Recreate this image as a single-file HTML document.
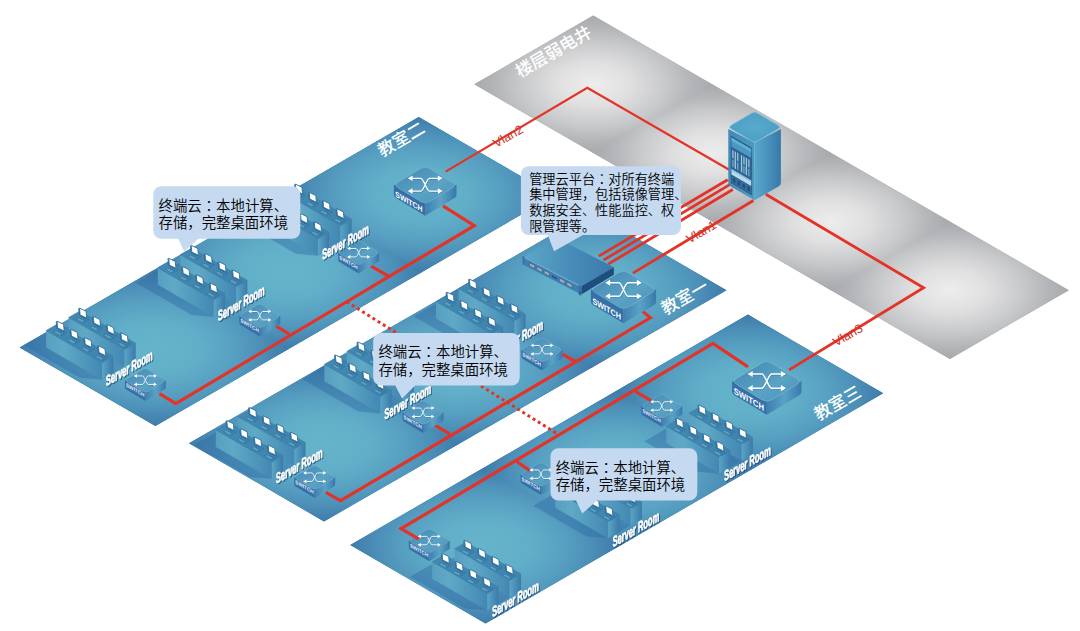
<!DOCTYPE html>
<html><head><meta charset="utf-8"><title>network</title>
<style>html,body{margin:0;padding:0;background:#fff;}svg{display:block;}</style>
</head><body>
<svg width="1080" height="631" viewBox="0 0 1080 631">
<defs>
<linearGradient id="dside" x1="0" y1="0" x2="1" y2="0"><stop offset="0" stop-color="#579fc0"/><stop offset="0.3" stop-color="#5fa9c6"/><stop offset="1" stop-color="#4388b3"/></linearGradient>
<linearGradient id="dend" x1="0" y1="0" x2="1" y2="0"><stop offset="0" stop-color="#5aa5c4"/><stop offset="1" stop-color="#3b7aaa"/></linearGradient>
<linearGradient id="dtop" x1="0" y1="0" x2="1" y2="1"><stop offset="0" stop-color="#4289b1"/><stop offset="1" stop-color="#3f84ae"/></linearGradient>
<linearGradient id="swtop" x1="0" y1="0" x2="1" y2="1"><stop offset="0" stop-color="#4385b3"/><stop offset="0.6" stop-color="#5aa3c4"/><stop offset="1" stop-color="#4a8fb9"/></linearGradient>
<linearGradient id="swright" x1="0" y1="0" x2="1" y2="0"><stop offset="0" stop-color="#3f7fb0"/><stop offset="0.5" stop-color="#5aa2c5"/><stop offset="0.75" stop-color="#4a8fba"/><stop offset="1" stop-color="#3a77aa"/></linearGradient>
<filter id="ts" x="-20%" y="-40%" width="140%" height="180%"><feDropShadow dx="1.0" dy="1.1" stdDeviation="0.45" flood-color="#173f6e" flood-opacity="0.75"/></filter>
<linearGradient id="cabR" x1="0" y1="0" x2="1" y2="0"><stop offset="0" stop-color="#58a8ca"/><stop offset="0.45" stop-color="#4a94be"/><stop offset="1" stop-color="#3878a8"/></linearGradient>
<linearGradient id="cabL" x1="0" y1="0" x2="1" y2="0"><stop offset="0" stop-color="#4189b5"/><stop offset="1" stop-color="#4d9ac2"/></linearGradient>
<radialGradient id="cabT" cx="0.5" cy="0.5" r="0.6"><stop offset="0" stop-color="#58abcc"/><stop offset="1" stop-color="#4a9dc4"/></radialGradient>
<linearGradient id="msTop" x1="0" y1="0" x2="1" y2="0"><stop offset="0" stop-color="#5ca8c7"/><stop offset="0.45" stop-color="#4a8fba"/><stop offset="1" stop-color="#3b79ab"/></linearGradient>
<radialGradient id="fg1" gradientUnits="userSpaceOnUse" cx="0" cy="0" r="1" gradientTransform="matrix(85.612 49.428 85.612 -49.428 593.21 84.30)"><stop offset="0" stop-color="#ededed"/><stop offset="0.3" stop-color="#e0e0e1"/><stop offset="0.6" stop-color="#c8c9cb"/><stop offset="0.8" stop-color="#b5b6b9"/><stop offset="1" stop-color="#a7a8ac"/></radialGradient>
<radialGradient id="fg2" gradientUnits="userSpaceOnUse" cx="0" cy="0" r="1" gradientTransform="matrix(85.612 49.428 85.612 -49.428 712.11 152.95)"><stop offset="0" stop-color="#ededed"/><stop offset="0.3" stop-color="#e0e0e1"/><stop offset="0.6" stop-color="#c8c9cb"/><stop offset="0.8" stop-color="#b5b6b9"/><stop offset="1" stop-color="#a7a8ac"/></radialGradient>
<radialGradient id="fg3" gradientUnits="userSpaceOnUse" cx="0" cy="0" r="1" gradientTransform="matrix(85.612 49.428 85.612 -49.428 831.02 221.60)"><stop offset="0" stop-color="#ededed"/><stop offset="0.3" stop-color="#e0e0e1"/><stop offset="0.6" stop-color="#c8c9cb"/><stop offset="0.8" stop-color="#b5b6b9"/><stop offset="1" stop-color="#a7a8ac"/></radialGradient>
<radialGradient id="fg4" gradientUnits="userSpaceOnUse" cx="0" cy="0" r="1" gradientTransform="matrix(85.612 49.428 85.612 -49.428 949.92 290.25)"><stop offset="0" stop-color="#ededed"/><stop offset="0.3" stop-color="#e0e0e1"/><stop offset="0.6" stop-color="#c8c9cb"/><stop offset="0.8" stop-color="#b5b6b9"/><stop offset="1" stop-color="#a7a8ac"/></radialGradient>
<radialGradient id="fg5" gradientUnits="userSpaceOnUse" cx="0" cy="0" r="1" gradientTransform="matrix(95.784 -55.320 97.776 56.448 154.02 348.38)"><stop offset="0" stop-color="#66b4cb"/><stop offset="0.35" stop-color="#61aec8"/><stop offset="0.6" stop-color="#579fc1"/><stop offset="0.8" stop-color="#4b8eb7"/><stop offset="1" stop-color="#3e79a9"/></radialGradient>
<radialGradient id="fg6" gradientUnits="userSpaceOnUse" cx="0" cy="0" r="1" gradientTransform="matrix(95.784 -55.320 97.776 56.448 287.05 271.55)"><stop offset="0" stop-color="#66b4cb"/><stop offset="0.35" stop-color="#61aec8"/><stop offset="0.6" stop-color="#579fc1"/><stop offset="0.8" stop-color="#4b8eb7"/><stop offset="1" stop-color="#3e79a9"/></radialGradient>
<radialGradient id="fg7" gradientUnits="userSpaceOnUse" cx="0" cy="0" r="1" gradientTransform="matrix(95.784 -55.320 97.776 56.448 420.08 194.72)"><stop offset="0" stop-color="#66b4cb"/><stop offset="0.35" stop-color="#61aec8"/><stop offset="0.6" stop-color="#579fc1"/><stop offset="0.8" stop-color="#4b8eb7"/><stop offset="1" stop-color="#3e79a9"/></radialGradient>
<radialGradient id="fg8" gradientUnits="userSpaceOnUse" cx="0" cy="0" r="1" gradientTransform="matrix(96.600 -55.488 97.200 56.304 323.58 443.77)"><stop offset="0" stop-color="#66b4cb"/><stop offset="0.35" stop-color="#61aec8"/><stop offset="0.6" stop-color="#579fc1"/><stop offset="0.8" stop-color="#4b8eb7"/><stop offset="1" stop-color="#3e79a9"/></radialGradient>
<radialGradient id="fg9" gradientUnits="userSpaceOnUse" cx="0" cy="0" r="1" gradientTransform="matrix(96.600 -55.488 97.200 56.304 457.75 366.70)"><stop offset="0" stop-color="#66b4cb"/><stop offset="0.35" stop-color="#61aec8"/><stop offset="0.6" stop-color="#579fc1"/><stop offset="0.8" stop-color="#4b8eb7"/><stop offset="1" stop-color="#3e79a9"/></radialGradient>
<radialGradient id="fg10" gradientUnits="userSpaceOnUse" cx="0" cy="0" r="1" gradientTransform="matrix(96.600 -55.488 97.200 56.304 591.92 289.63)"><stop offset="0" stop-color="#66b4cb"/><stop offset="0.35" stop-color="#61aec8"/><stop offset="0.6" stop-color="#579fc1"/><stop offset="0.8" stop-color="#4b8eb7"/><stop offset="1" stop-color="#3e79a9"/></radialGradient>
<radialGradient id="fg11" gradientUnits="userSpaceOnUse" cx="0" cy="0" r="1" gradientTransform="matrix(95.448 -55.296 97.344 56.592 484.18 545.90)"><stop offset="0" stop-color="#66b4cb"/><stop offset="0.35" stop-color="#61aec8"/><stop offset="0.6" stop-color="#579fc1"/><stop offset="0.8" stop-color="#4b8eb7"/><stop offset="1" stop-color="#3e79a9"/></radialGradient>
<radialGradient id="fg12" gradientUnits="userSpaceOnUse" cx="0" cy="0" r="1" gradientTransform="matrix(95.448 -55.296 97.344 56.592 616.75 469.10)"><stop offset="0" stop-color="#66b4cb"/><stop offset="0.35" stop-color="#61aec8"/><stop offset="0.6" stop-color="#579fc1"/><stop offset="0.8" stop-color="#4b8eb7"/><stop offset="1" stop-color="#3e79a9"/></radialGradient>
<radialGradient id="fg13" gradientUnits="userSpaceOnUse" cx="0" cy="0" r="1" gradientTransform="matrix(95.448 -55.296 97.344 56.592 749.32 392.30)"><stop offset="0" stop-color="#66b4cb"/><stop offset="0.35" stop-color="#61aec8"/><stop offset="0.6" stop-color="#579fc1"/><stop offset="0.8" stop-color="#4b8eb7"/><stop offset="1" stop-color="#3e79a9"/></radialGradient>
</defs>
<rect width="1080" height="631" fill="#fff"/>
<polygon points="474.3,84.3 949.9,358.9 1068.8,290.2 593.2,15.6" fill="#a8a9ad"/>
<polygon points="474.3,84.3 593.5,153.1 712.4,84.5 593.2,15.6" fill="url(#fg1)"/>
<polygon points="592.9,152.8 712.4,221.8 831.3,153.1 711.8,84.1" fill="url(#fg2)"/>
<polygon points="711.8,221.4 831.3,290.4 950.2,221.8 830.7,152.8" fill="url(#fg3)"/>
<polygon points="830.7,290.1 949.9,358.9 1068.8,290.2 949.6,221.4" fill="url(#fg4)"/>
<polygon points="19.6,347.6 418.7,117.1 554.5,195.5 155.4,426.0" fill="#3f7aaa"/>
<polygon points="19.6,347.6 152.9,270.6 288.7,349.0 155.4,426.0" fill="url(#fg5)"/>
<polygon points="152.3,270.9 286.0,193.8 421.8,272.2 288.1,349.3" fill="url(#fg6)"/>
<polygon points="285.4,194.1 418.7,117.1 554.5,195.5 421.2,272.5" fill="url(#fg7)"/>
<polygon points="273.8,202.0 240.0,221.5 295.9,253.8 317.9,255.8 351.6,236.2 295.8,204.0" fill="#2d6aa3" opacity="0.42"/><polygon points="284.5,193.5 340.4,225.8 340.4,242.8 284.5,210.5" fill="url(#dside)"/><polygon points="340.4,225.8 351.6,219.2 351.6,236.2 340.4,242.8" fill="url(#dend)"/><polygon points="284.5,193.5 340.4,225.8 351.6,219.2 295.8,187.0" fill="url(#dtop)" stroke="#3b7da8" stroke-width="0.5"/><polygon points="292.0,195.2 298.1,198.5 300.6,197.1 294.6,193.8" fill="#5da3c4" stroke="#2d6a96" stroke-width="0.5" stroke-linejoin="round"/><polyline points="299.6,199.0 301.6,197.8 305.0,195.5 303.4,194.7 301.0,196.5" fill="none" stroke="#2d6a96" stroke-width="0.5" stroke-linejoin="round"/><path d="M298.6 192.7 l-2.0 1.1 l3.0 1.7 l2.2 -1.2 Z" fill="#4a8eb6" stroke="#2d6a96" stroke-width="0.4"/><path d="M299.6 192.5 l0 2.0" stroke="#2d6a96" stroke-width="1.4"/><polygon points="294.5,184.5 301.1,187.7 301.7,194.5 295.1,191.3" fill="#2f6f9c" stroke="#2f6f9c" stroke-width="0.6" stroke-linejoin="round"/><polygon points="295.4,184.1 302.0,187.3 302.6,194.1 296.0,190.9" fill="#fff" stroke="#2f6f9c" stroke-width="0.9" stroke-linejoin="round"/><polygon points="305.8,203.4 311.9,206.7 314.4,205.3 308.4,202.0" fill="#5da3c4" stroke="#2d6a96" stroke-width="0.5" stroke-linejoin="round"/><polyline points="313.4,207.2 315.4,206.0 318.8,203.7 317.2,202.9 314.8,204.7" fill="none" stroke="#2d6a96" stroke-width="0.5" stroke-linejoin="round"/><path d="M312.4 200.9 l-2.0 1.1 l3.0 1.7 l2.2 -1.2 Z" fill="#4a8eb6" stroke="#2d6a96" stroke-width="0.4"/><path d="M313.4 200.7 l0 2.0" stroke="#2d6a96" stroke-width="1.4"/><polygon points="308.3,192.7 314.9,195.9 315.5,202.7 308.9,199.5" fill="#2f6f9c" stroke="#2f6f9c" stroke-width="0.6" stroke-linejoin="round"/><polygon points="309.2,192.3 315.8,195.5 316.4,202.3 309.8,199.1" fill="#fff" stroke="#2f6f9c" stroke-width="0.9" stroke-linejoin="round"/><polygon points="319.6,211.6 325.7,214.9 328.2,213.5 322.2,210.2" fill="#5da3c4" stroke="#2d6a96" stroke-width="0.5" stroke-linejoin="round"/><polyline points="327.2,215.4 329.2,214.2 332.6,211.9 331.0,211.1 328.6,212.9" fill="none" stroke="#2d6a96" stroke-width="0.5" stroke-linejoin="round"/><path d="M326.2 209.1 l-2.0 1.1 l3.0 1.7 l2.2 -1.2 Z" fill="#4a8eb6" stroke="#2d6a96" stroke-width="0.4"/><path d="M327.2 208.9 l0 2.0" stroke="#2d6a96" stroke-width="1.4"/><polygon points="322.1,200.9 328.7,204.1 329.3,210.9 322.7,207.7" fill="#2f6f9c" stroke="#2f6f9c" stroke-width="0.6" stroke-linejoin="round"/><polygon points="323.0,200.5 329.6,203.7 330.2,210.5 323.6,207.3" fill="#fff" stroke="#2f6f9c" stroke-width="0.9" stroke-linejoin="round"/><polygon points="333.4,219.8 339.5,223.1 342.0,221.7 336.0,218.4" fill="#5da3c4" stroke="#2d6a96" stroke-width="0.5" stroke-linejoin="round"/><polyline points="341.0,223.6 343.0,222.4 346.4,220.1 344.8,219.3 342.4,221.1" fill="none" stroke="#2d6a96" stroke-width="0.5" stroke-linejoin="round"/><path d="M340.0 217.3 l-2.0 1.1 l3.0 1.7 l2.2 -1.2 Z" fill="#4a8eb6" stroke="#2d6a96" stroke-width="0.4"/><path d="M341.0 217.1 l0 2.0" stroke="#2d6a96" stroke-width="1.4"/><polygon points="335.9,209.1 342.5,212.3 343.1,219.1 336.5,215.9" fill="#2f6f9c" stroke="#2f6f9c" stroke-width="0.6" stroke-linejoin="round"/><polygon points="336.8,208.7 343.4,211.9 344.0,218.7 337.4,215.5" fill="#fff" stroke="#2f6f9c" stroke-width="0.9" stroke-linejoin="round"/><polygon points="262.0,206.5 317.9,238.8 317.9,255.8 262.0,223.5" fill="url(#dside)"/><polygon points="317.9,238.8 329.1,232.2 329.1,249.2 317.9,255.8" fill="url(#dend)"/><polygon points="262.0,206.5 317.9,238.8 329.1,232.2 273.3,200.0" fill="url(#dtop)" stroke="#3b7da8" stroke-width="0.5"/><polygon points="269.5,208.2 275.6,211.5 278.1,210.1 272.1,206.8" fill="#5da3c4" stroke="#2d6a96" stroke-width="0.5" stroke-linejoin="round"/><polyline points="277.1,212.0 279.1,210.8 282.5,208.5 280.9,207.7 278.5,209.5" fill="none" stroke="#2d6a96" stroke-width="0.5" stroke-linejoin="round"/><path d="M276.1 205.7 l-2.0 1.1 l3.0 1.7 l2.2 -1.2 Z" fill="#4a8eb6" stroke="#2d6a96" stroke-width="0.4"/><path d="M277.1 205.5 l0 2.0" stroke="#2d6a96" stroke-width="1.4"/><polygon points="272.0,197.5 278.6,200.7 279.2,207.5 272.6,204.3" fill="#2f6f9c" stroke="#2f6f9c" stroke-width="0.6" stroke-linejoin="round"/><polygon points="272.9,197.1 279.5,200.3 280.1,207.1 273.5,203.9" fill="#fff" stroke="#2f6f9c" stroke-width="0.9" stroke-linejoin="round"/><polygon points="283.3,216.4 289.4,219.7 291.9,218.3 285.9,215.0" fill="#5da3c4" stroke="#2d6a96" stroke-width="0.5" stroke-linejoin="round"/><polyline points="290.9,220.2 292.9,219.0 296.3,216.7 294.7,215.9 292.3,217.7" fill="none" stroke="#2d6a96" stroke-width="0.5" stroke-linejoin="round"/><path d="M289.9 213.9 l-2.0 1.1 l3.0 1.7 l2.2 -1.2 Z" fill="#4a8eb6" stroke="#2d6a96" stroke-width="0.4"/><path d="M290.9 213.7 l0 2.0" stroke="#2d6a96" stroke-width="1.4"/><polygon points="285.8,205.7 292.4,208.9 293.0,215.7 286.4,212.5" fill="#2f6f9c" stroke="#2f6f9c" stroke-width="0.6" stroke-linejoin="round"/><polygon points="286.7,205.3 293.3,208.5 293.9,215.3 287.3,212.1" fill="#fff" stroke="#2f6f9c" stroke-width="0.9" stroke-linejoin="round"/><polygon points="297.1,224.6 303.2,227.9 305.7,226.5 299.7,223.2" fill="#5da3c4" stroke="#2d6a96" stroke-width="0.5" stroke-linejoin="round"/><polyline points="304.7,228.4 306.7,227.2 310.1,224.9 308.5,224.1 306.1,225.9" fill="none" stroke="#2d6a96" stroke-width="0.5" stroke-linejoin="round"/><path d="M303.7 222.1 l-2.0 1.1 l3.0 1.7 l2.2 -1.2 Z" fill="#4a8eb6" stroke="#2d6a96" stroke-width="0.4"/><path d="M304.7 221.9 l0 2.0" stroke="#2d6a96" stroke-width="1.4"/><polygon points="299.6,213.9 306.2,217.1 306.8,223.9 300.2,220.7" fill="#2f6f9c" stroke="#2f6f9c" stroke-width="0.6" stroke-linejoin="round"/><polygon points="300.5,213.5 307.1,216.7 307.7,223.5 301.1,220.3" fill="#fff" stroke="#2f6f9c" stroke-width="0.9" stroke-linejoin="round"/><polygon points="310.9,232.8 317.0,236.1 319.5,234.7 313.5,231.4" fill="#5da3c4" stroke="#2d6a96" stroke-width="0.5" stroke-linejoin="round"/><polyline points="318.5,236.6 320.5,235.4 323.9,233.1 322.3,232.3 319.9,234.1" fill="none" stroke="#2d6a96" stroke-width="0.5" stroke-linejoin="round"/><path d="M317.5 230.3 l-2.0 1.1 l3.0 1.7 l2.2 -1.2 Z" fill="#4a8eb6" stroke="#2d6a96" stroke-width="0.4"/><path d="M318.5 230.1 l0 2.0" stroke="#2d6a96" stroke-width="1.4"/><polygon points="313.4,222.1 320.0,225.3 320.6,232.1 314.0,228.9" fill="#2f6f9c" stroke="#2f6f9c" stroke-width="0.6" stroke-linejoin="round"/><polygon points="314.3,221.7 320.9,224.9 321.5,231.7 314.9,228.5" fill="#fff" stroke="#2f6f9c" stroke-width="0.9" stroke-linejoin="round"/>
<polygon points="169.6,263.2 135.8,282.7 191.7,314.9 213.7,316.9 247.4,297.4 191.6,265.2" fill="#2d6aa3" opacity="0.42"/><polygon points="180.3,254.7 236.2,286.9 236.2,303.9 180.3,271.7" fill="url(#dside)"/><polygon points="236.2,286.9 247.4,280.4 247.4,297.4 236.2,303.9" fill="url(#dend)"/><polygon points="180.3,254.7 236.2,286.9 247.4,280.4 191.6,248.2" fill="url(#dtop)" stroke="#3b7da8" stroke-width="0.5"/><polygon points="187.8,256.4 193.9,259.7 196.4,258.3 190.4,255.0" fill="#5da3c4" stroke="#2d6a96" stroke-width="0.5" stroke-linejoin="round"/><polyline points="195.4,260.2 197.4,259.0 200.8,256.7 199.2,255.9 196.8,257.7" fill="none" stroke="#2d6a96" stroke-width="0.5" stroke-linejoin="round"/><path d="M194.4 253.9 l-2.0 1.1 l3.0 1.7 l2.2 -1.2 Z" fill="#4a8eb6" stroke="#2d6a96" stroke-width="0.4"/><path d="M195.4 253.7 l0 2.0" stroke="#2d6a96" stroke-width="1.4"/><polygon points="190.3,245.7 196.9,248.9 197.5,255.7 190.9,252.5" fill="#2f6f9c" stroke="#2f6f9c" stroke-width="0.6" stroke-linejoin="round"/><polygon points="191.2,245.3 197.8,248.5 198.4,255.3 191.8,252.1" fill="#fff" stroke="#2f6f9c" stroke-width="0.9" stroke-linejoin="round"/><polygon points="201.6,264.6 207.7,267.9 210.2,266.5 204.2,263.2" fill="#5da3c4" stroke="#2d6a96" stroke-width="0.5" stroke-linejoin="round"/><polyline points="209.2,268.4 211.2,267.2 214.6,264.9 213.0,264.1 210.6,265.9" fill="none" stroke="#2d6a96" stroke-width="0.5" stroke-linejoin="round"/><path d="M208.2 262.1 l-2.0 1.1 l3.0 1.7 l2.2 -1.2 Z" fill="#4a8eb6" stroke="#2d6a96" stroke-width="0.4"/><path d="M209.2 261.9 l0 2.0" stroke="#2d6a96" stroke-width="1.4"/><polygon points="204.1,253.9 210.7,257.1 211.3,263.9 204.7,260.7" fill="#2f6f9c" stroke="#2f6f9c" stroke-width="0.6" stroke-linejoin="round"/><polygon points="205.0,253.5 211.6,256.7 212.2,263.5 205.6,260.3" fill="#fff" stroke="#2f6f9c" stroke-width="0.9" stroke-linejoin="round"/><polygon points="215.4,272.8 221.5,276.1 224.0,274.7 218.0,271.4" fill="#5da3c4" stroke="#2d6a96" stroke-width="0.5" stroke-linejoin="round"/><polyline points="223.0,276.6 225.0,275.4 228.4,273.1 226.8,272.3 224.4,274.1" fill="none" stroke="#2d6a96" stroke-width="0.5" stroke-linejoin="round"/><path d="M222.0 270.3 l-2.0 1.1 l3.0 1.7 l2.2 -1.2 Z" fill="#4a8eb6" stroke="#2d6a96" stroke-width="0.4"/><path d="M223.0 270.1 l0 2.0" stroke="#2d6a96" stroke-width="1.4"/><polygon points="217.9,262.1 224.5,265.3 225.1,272.1 218.5,268.9" fill="#2f6f9c" stroke="#2f6f9c" stroke-width="0.6" stroke-linejoin="round"/><polygon points="218.8,261.7 225.4,264.9 226.0,271.7 219.4,268.5" fill="#fff" stroke="#2f6f9c" stroke-width="0.9" stroke-linejoin="round"/><polygon points="229.2,281.0 235.3,284.3 237.8,282.9 231.8,279.6" fill="#5da3c4" stroke="#2d6a96" stroke-width="0.5" stroke-linejoin="round"/><polyline points="236.8,284.8 238.8,283.6 242.2,281.3 240.6,280.5 238.2,282.3" fill="none" stroke="#2d6a96" stroke-width="0.5" stroke-linejoin="round"/><path d="M235.8 278.5 l-2.0 1.1 l3.0 1.7 l2.2 -1.2 Z" fill="#4a8eb6" stroke="#2d6a96" stroke-width="0.4"/><path d="M236.8 278.3 l0 2.0" stroke="#2d6a96" stroke-width="1.4"/><polygon points="231.7,270.3 238.3,273.5 238.9,280.3 232.3,277.1" fill="#2f6f9c" stroke="#2f6f9c" stroke-width="0.6" stroke-linejoin="round"/><polygon points="232.6,269.9 239.2,273.1 239.8,279.9 233.2,276.7" fill="#fff" stroke="#2f6f9c" stroke-width="0.9" stroke-linejoin="round"/><polygon points="157.8,267.7 213.7,299.9 213.7,316.9 157.8,284.7" fill="url(#dside)"/><polygon points="213.7,299.9 224.9,293.4 224.9,310.4 213.7,316.9" fill="url(#dend)"/><polygon points="157.8,267.7 213.7,299.9 224.9,293.4 169.1,261.2" fill="url(#dtop)" stroke="#3b7da8" stroke-width="0.5"/><polygon points="165.3,269.4 171.4,272.7 173.9,271.3 167.9,268.0" fill="#5da3c4" stroke="#2d6a96" stroke-width="0.5" stroke-linejoin="round"/><polyline points="172.9,273.2 174.9,272.0 178.3,269.7 176.7,268.9 174.3,270.7" fill="none" stroke="#2d6a96" stroke-width="0.5" stroke-linejoin="round"/><path d="M171.9 266.9 l-2.0 1.1 l3.0 1.7 l2.2 -1.2 Z" fill="#4a8eb6" stroke="#2d6a96" stroke-width="0.4"/><path d="M172.9 266.7 l0 2.0" stroke="#2d6a96" stroke-width="1.4"/><polygon points="167.8,258.7 174.4,261.9 175.0,268.7 168.4,265.5" fill="#2f6f9c" stroke="#2f6f9c" stroke-width="0.6" stroke-linejoin="round"/><polygon points="168.7,258.3 175.3,261.5 175.9,268.3 169.3,265.1" fill="#fff" stroke="#2f6f9c" stroke-width="0.9" stroke-linejoin="round"/><polygon points="179.1,277.6 185.2,280.9 187.7,279.5 181.7,276.2" fill="#5da3c4" stroke="#2d6a96" stroke-width="0.5" stroke-linejoin="round"/><polyline points="186.7,281.4 188.7,280.2 192.1,277.9 190.5,277.1 188.1,278.9" fill="none" stroke="#2d6a96" stroke-width="0.5" stroke-linejoin="round"/><path d="M185.7 275.1 l-2.0 1.1 l3.0 1.7 l2.2 -1.2 Z" fill="#4a8eb6" stroke="#2d6a96" stroke-width="0.4"/><path d="M186.7 274.9 l0 2.0" stroke="#2d6a96" stroke-width="1.4"/><polygon points="181.6,266.9 188.2,270.1 188.8,276.9 182.2,273.7" fill="#2f6f9c" stroke="#2f6f9c" stroke-width="0.6" stroke-linejoin="round"/><polygon points="182.5,266.5 189.1,269.7 189.7,276.5 183.1,273.3" fill="#fff" stroke="#2f6f9c" stroke-width="0.9" stroke-linejoin="round"/><polygon points="192.9,285.8 199.0,289.1 201.5,287.7 195.5,284.4" fill="#5da3c4" stroke="#2d6a96" stroke-width="0.5" stroke-linejoin="round"/><polyline points="200.5,289.6 202.5,288.4 205.9,286.1 204.3,285.3 201.9,287.1" fill="none" stroke="#2d6a96" stroke-width="0.5" stroke-linejoin="round"/><path d="M199.5 283.3 l-2.0 1.1 l3.0 1.7 l2.2 -1.2 Z" fill="#4a8eb6" stroke="#2d6a96" stroke-width="0.4"/><path d="M200.5 283.1 l0 2.0" stroke="#2d6a96" stroke-width="1.4"/><polygon points="195.4,275.1 202.0,278.3 202.6,285.1 196.0,281.9" fill="#2f6f9c" stroke="#2f6f9c" stroke-width="0.6" stroke-linejoin="round"/><polygon points="196.3,274.7 202.9,277.9 203.5,284.7 196.9,281.5" fill="#fff" stroke="#2f6f9c" stroke-width="0.9" stroke-linejoin="round"/><polygon points="206.7,294.0 212.8,297.3 215.3,295.9 209.3,292.6" fill="#5da3c4" stroke="#2d6a96" stroke-width="0.5" stroke-linejoin="round"/><polyline points="214.3,297.8 216.3,296.6 219.7,294.3 218.1,293.5 215.7,295.3" fill="none" stroke="#2d6a96" stroke-width="0.5" stroke-linejoin="round"/><path d="M213.3 291.5 l-2.0 1.1 l3.0 1.7 l2.2 -1.2 Z" fill="#4a8eb6" stroke="#2d6a96" stroke-width="0.4"/><path d="M214.3 291.3 l0 2.0" stroke="#2d6a96" stroke-width="1.4"/><polygon points="209.2,283.3 215.8,286.5 216.4,293.3 209.8,290.1" fill="#2f6f9c" stroke="#2f6f9c" stroke-width="0.6" stroke-linejoin="round"/><polygon points="210.1,282.9 216.7,286.1 217.3,292.9 210.7,289.7" fill="#fff" stroke="#2f6f9c" stroke-width="0.9" stroke-linejoin="round"/>
<polygon points="57.9,326.0 24.1,345.5 80.0,377.8 102.0,379.8 135.7,360.2 79.9,328.0" fill="#2d6aa3" opacity="0.42"/><polygon points="68.6,317.5 124.5,349.8 124.5,366.8 68.6,334.5" fill="url(#dside)"/><polygon points="124.5,349.8 135.7,343.2 135.7,360.2 124.5,366.8" fill="url(#dend)"/><polygon points="68.6,317.5 124.5,349.8 135.7,343.2 79.9,311.0" fill="url(#dtop)" stroke="#3b7da8" stroke-width="0.5"/><polygon points="76.1,319.2 82.2,322.5 84.7,321.1 78.7,317.8" fill="#5da3c4" stroke="#2d6a96" stroke-width="0.5" stroke-linejoin="round"/><polyline points="83.7,323.0 85.7,321.8 89.1,319.5 87.5,318.7 85.1,320.5" fill="none" stroke="#2d6a96" stroke-width="0.5" stroke-linejoin="round"/><path d="M82.7 316.7 l-2.0 1.1 l3.0 1.7 l2.2 -1.2 Z" fill="#4a8eb6" stroke="#2d6a96" stroke-width="0.4"/><path d="M83.7 316.5 l0 2.0" stroke="#2d6a96" stroke-width="1.4"/><polygon points="78.6,308.5 85.2,311.7 85.8,318.5 79.2,315.3" fill="#2f6f9c" stroke="#2f6f9c" stroke-width="0.6" stroke-linejoin="round"/><polygon points="79.5,308.1 86.1,311.3 86.7,318.1 80.1,314.9" fill="#fff" stroke="#2f6f9c" stroke-width="0.9" stroke-linejoin="round"/><polygon points="89.9,327.4 96.0,330.7 98.5,329.3 92.5,326.0" fill="#5da3c4" stroke="#2d6a96" stroke-width="0.5" stroke-linejoin="round"/><polyline points="97.5,331.2 99.5,330.0 102.9,327.7 101.3,326.9 98.9,328.7" fill="none" stroke="#2d6a96" stroke-width="0.5" stroke-linejoin="round"/><path d="M96.5 324.9 l-2.0 1.1 l3.0 1.7 l2.2 -1.2 Z" fill="#4a8eb6" stroke="#2d6a96" stroke-width="0.4"/><path d="M97.5 324.7 l0 2.0" stroke="#2d6a96" stroke-width="1.4"/><polygon points="92.4,316.7 99.0,319.9 99.6,326.7 93.0,323.5" fill="#2f6f9c" stroke="#2f6f9c" stroke-width="0.6" stroke-linejoin="round"/><polygon points="93.3,316.3 99.9,319.5 100.5,326.3 93.9,323.1" fill="#fff" stroke="#2f6f9c" stroke-width="0.9" stroke-linejoin="round"/><polygon points="103.7,335.6 109.8,338.9 112.3,337.5 106.3,334.2" fill="#5da3c4" stroke="#2d6a96" stroke-width="0.5" stroke-linejoin="round"/><polyline points="111.3,339.4 113.3,338.2 116.7,335.9 115.1,335.1 112.7,336.9" fill="none" stroke="#2d6a96" stroke-width="0.5" stroke-linejoin="round"/><path d="M110.3 333.1 l-2.0 1.1 l3.0 1.7 l2.2 -1.2 Z" fill="#4a8eb6" stroke="#2d6a96" stroke-width="0.4"/><path d="M111.3 332.9 l0 2.0" stroke="#2d6a96" stroke-width="1.4"/><polygon points="106.2,324.9 112.8,328.1 113.4,334.9 106.8,331.7" fill="#2f6f9c" stroke="#2f6f9c" stroke-width="0.6" stroke-linejoin="round"/><polygon points="107.1,324.5 113.7,327.7 114.3,334.5 107.7,331.3" fill="#fff" stroke="#2f6f9c" stroke-width="0.9" stroke-linejoin="round"/><polygon points="117.5,343.8 123.6,347.1 126.1,345.7 120.1,342.4" fill="#5da3c4" stroke="#2d6a96" stroke-width="0.5" stroke-linejoin="round"/><polyline points="125.1,347.6 127.1,346.4 130.5,344.1 128.9,343.3 126.5,345.1" fill="none" stroke="#2d6a96" stroke-width="0.5" stroke-linejoin="round"/><path d="M124.1 341.3 l-2.0 1.1 l3.0 1.7 l2.2 -1.2 Z" fill="#4a8eb6" stroke="#2d6a96" stroke-width="0.4"/><path d="M125.1 341.1 l0 2.0" stroke="#2d6a96" stroke-width="1.4"/><polygon points="120.0,333.1 126.6,336.3 127.2,343.1 120.6,339.9" fill="#2f6f9c" stroke="#2f6f9c" stroke-width="0.6" stroke-linejoin="round"/><polygon points="120.9,332.7 127.5,335.9 128.1,342.7 121.5,339.5" fill="#fff" stroke="#2f6f9c" stroke-width="0.9" stroke-linejoin="round"/><polygon points="46.1,330.5 102.0,362.8 102.0,379.8 46.1,347.5" fill="url(#dside)"/><polygon points="102.0,362.8 113.2,356.2 113.2,373.2 102.0,379.8" fill="url(#dend)"/><polygon points="46.1,330.5 102.0,362.8 113.2,356.2 57.4,324.0" fill="url(#dtop)" stroke="#3b7da8" stroke-width="0.5"/><polygon points="53.6,332.2 59.7,335.5 62.2,334.1 56.2,330.8" fill="#5da3c4" stroke="#2d6a96" stroke-width="0.5" stroke-linejoin="round"/><polyline points="61.2,336.0 63.2,334.8 66.6,332.5 65.0,331.7 62.6,333.5" fill="none" stroke="#2d6a96" stroke-width="0.5" stroke-linejoin="round"/><path d="M60.2 329.7 l-2.0 1.1 l3.0 1.7 l2.2 -1.2 Z" fill="#4a8eb6" stroke="#2d6a96" stroke-width="0.4"/><path d="M61.2 329.5 l0 2.0" stroke="#2d6a96" stroke-width="1.4"/><polygon points="56.1,321.5 62.7,324.7 63.3,331.5 56.7,328.3" fill="#2f6f9c" stroke="#2f6f9c" stroke-width="0.6" stroke-linejoin="round"/><polygon points="57.0,321.1 63.6,324.3 64.2,331.1 57.6,327.9" fill="#fff" stroke="#2f6f9c" stroke-width="0.9" stroke-linejoin="round"/><polygon points="67.4,340.4 73.5,343.7 76.0,342.3 70.0,339.0" fill="#5da3c4" stroke="#2d6a96" stroke-width="0.5" stroke-linejoin="round"/><polyline points="75.0,344.2 77.0,343.0 80.4,340.7 78.8,339.9 76.4,341.7" fill="none" stroke="#2d6a96" stroke-width="0.5" stroke-linejoin="round"/><path d="M74.0 337.9 l-2.0 1.1 l3.0 1.7 l2.2 -1.2 Z" fill="#4a8eb6" stroke="#2d6a96" stroke-width="0.4"/><path d="M75.0 337.7 l0 2.0" stroke="#2d6a96" stroke-width="1.4"/><polygon points="69.9,329.7 76.5,332.9 77.1,339.7 70.5,336.5" fill="#2f6f9c" stroke="#2f6f9c" stroke-width="0.6" stroke-linejoin="round"/><polygon points="70.8,329.3 77.4,332.5 78.0,339.3 71.4,336.1" fill="#fff" stroke="#2f6f9c" stroke-width="0.9" stroke-linejoin="round"/><polygon points="81.2,348.6 87.3,351.9 89.8,350.5 83.8,347.2" fill="#5da3c4" stroke="#2d6a96" stroke-width="0.5" stroke-linejoin="round"/><polyline points="88.8,352.4 90.8,351.2 94.2,348.9 92.6,348.1 90.2,349.9" fill="none" stroke="#2d6a96" stroke-width="0.5" stroke-linejoin="round"/><path d="M87.8 346.1 l-2.0 1.1 l3.0 1.7 l2.2 -1.2 Z" fill="#4a8eb6" stroke="#2d6a96" stroke-width="0.4"/><path d="M88.8 345.9 l0 2.0" stroke="#2d6a96" stroke-width="1.4"/><polygon points="83.7,337.9 90.3,341.1 90.9,347.9 84.3,344.7" fill="#2f6f9c" stroke="#2f6f9c" stroke-width="0.6" stroke-linejoin="round"/><polygon points="84.6,337.5 91.2,340.7 91.8,347.5 85.2,344.3" fill="#fff" stroke="#2f6f9c" stroke-width="0.9" stroke-linejoin="round"/><polygon points="95.0,356.8 101.1,360.1 103.6,358.7 97.6,355.4" fill="#5da3c4" stroke="#2d6a96" stroke-width="0.5" stroke-linejoin="round"/><polyline points="102.6,360.6 104.6,359.4 108.0,357.1 106.4,356.3 104.0,358.1" fill="none" stroke="#2d6a96" stroke-width="0.5" stroke-linejoin="round"/><path d="M101.6 354.3 l-2.0 1.1 l3.0 1.7 l2.2 -1.2 Z" fill="#4a8eb6" stroke="#2d6a96" stroke-width="0.4"/><path d="M102.6 354.1 l0 2.0" stroke="#2d6a96" stroke-width="1.4"/><polygon points="97.5,346.1 104.1,349.3 104.7,356.1 98.1,352.9" fill="#2f6f9c" stroke="#2f6f9c" stroke-width="0.6" stroke-linejoin="round"/><polygon points="98.4,345.7 105.0,348.9 105.6,355.7 99.0,352.5" fill="#fff" stroke="#2f6f9c" stroke-width="0.9" stroke-linejoin="round"/>
<polygon points="189.0,443.2 591.5,212.0 726.5,290.2 324.0,521.4" fill="#3f7aaa"/>
<polygon points="189.0,443.2 323.5,366.0 458.5,444.2 324.0,521.4" fill="url(#fg8)"/>
<polygon points="322.9,366.3 457.6,288.9 592.6,367.1 457.9,444.5" fill="url(#fg9)"/>
<polygon points="457.0,289.2 591.5,212.0 726.5,290.2 592.0,367.4" fill="url(#fg10)"/>
<polygon points="447.8,297.0 414.0,316.5 469.9,348.8 491.9,350.8 525.6,331.2 469.8,299.0" fill="#2d6aa3" opacity="0.42"/><polygon points="458.5,288.5 514.4,320.8 514.4,337.8 458.5,305.5" fill="url(#dside)"/><polygon points="514.4,320.8 525.6,314.2 525.6,331.2 514.4,337.8" fill="url(#dend)"/><polygon points="458.5,288.5 514.4,320.8 525.6,314.2 469.8,282.0" fill="url(#dtop)" stroke="#3b7da8" stroke-width="0.5"/><polygon points="466.0,290.2 472.1,293.5 474.6,292.1 468.6,288.8" fill="#5da3c4" stroke="#2d6a96" stroke-width="0.5" stroke-linejoin="round"/><polyline points="473.6,294.0 475.6,292.8 479.0,290.5 477.4,289.7 475.0,291.5" fill="none" stroke="#2d6a96" stroke-width="0.5" stroke-linejoin="round"/><path d="M472.6 287.7 l-2.0 1.1 l3.0 1.7 l2.2 -1.2 Z" fill="#4a8eb6" stroke="#2d6a96" stroke-width="0.4"/><path d="M473.6 287.5 l0 2.0" stroke="#2d6a96" stroke-width="1.4"/><polygon points="468.5,279.5 475.1,282.7 475.7,289.5 469.1,286.3" fill="#2f6f9c" stroke="#2f6f9c" stroke-width="0.6" stroke-linejoin="round"/><polygon points="469.4,279.1 476.0,282.3 476.6,289.1 470.0,285.9" fill="#fff" stroke="#2f6f9c" stroke-width="0.9" stroke-linejoin="round"/><polygon points="479.8,298.4 485.9,301.7 488.4,300.3 482.4,297.0" fill="#5da3c4" stroke="#2d6a96" stroke-width="0.5" stroke-linejoin="round"/><polyline points="487.4,302.2 489.4,301.0 492.8,298.7 491.2,297.9 488.8,299.7" fill="none" stroke="#2d6a96" stroke-width="0.5" stroke-linejoin="round"/><path d="M486.4 295.9 l-2.0 1.1 l3.0 1.7 l2.2 -1.2 Z" fill="#4a8eb6" stroke="#2d6a96" stroke-width="0.4"/><path d="M487.4 295.7 l0 2.0" stroke="#2d6a96" stroke-width="1.4"/><polygon points="482.3,287.7 488.9,290.9 489.5,297.7 482.9,294.5" fill="#2f6f9c" stroke="#2f6f9c" stroke-width="0.6" stroke-linejoin="round"/><polygon points="483.2,287.3 489.8,290.5 490.4,297.3 483.8,294.1" fill="#fff" stroke="#2f6f9c" stroke-width="0.9" stroke-linejoin="round"/><polygon points="493.6,306.6 499.7,309.9 502.2,308.5 496.2,305.2" fill="#5da3c4" stroke="#2d6a96" stroke-width="0.5" stroke-linejoin="round"/><polyline points="501.2,310.4 503.2,309.2 506.6,306.9 505.0,306.1 502.6,307.9" fill="none" stroke="#2d6a96" stroke-width="0.5" stroke-linejoin="round"/><path d="M500.2 304.1 l-2.0 1.1 l3.0 1.7 l2.2 -1.2 Z" fill="#4a8eb6" stroke="#2d6a96" stroke-width="0.4"/><path d="M501.2 303.9 l0 2.0" stroke="#2d6a96" stroke-width="1.4"/><polygon points="496.1,295.9 502.7,299.1 503.3,305.9 496.7,302.7" fill="#2f6f9c" stroke="#2f6f9c" stroke-width="0.6" stroke-linejoin="round"/><polygon points="497.0,295.5 503.6,298.7 504.2,305.5 497.6,302.3" fill="#fff" stroke="#2f6f9c" stroke-width="0.9" stroke-linejoin="round"/><polygon points="507.4,314.8 513.5,318.1 516.0,316.7 510.0,313.4" fill="#5da3c4" stroke="#2d6a96" stroke-width="0.5" stroke-linejoin="round"/><polyline points="515.0,318.6 517.0,317.4 520.4,315.1 518.8,314.3 516.4,316.1" fill="none" stroke="#2d6a96" stroke-width="0.5" stroke-linejoin="round"/><path d="M514.0 312.3 l-2.0 1.1 l3.0 1.7 l2.2 -1.2 Z" fill="#4a8eb6" stroke="#2d6a96" stroke-width="0.4"/><path d="M515.0 312.1 l0 2.0" stroke="#2d6a96" stroke-width="1.4"/><polygon points="509.9,304.1 516.5,307.3 517.1,314.1 510.5,310.9" fill="#2f6f9c" stroke="#2f6f9c" stroke-width="0.6" stroke-linejoin="round"/><polygon points="510.8,303.7 517.4,306.9 518.0,313.7 511.4,310.5" fill="#fff" stroke="#2f6f9c" stroke-width="0.9" stroke-linejoin="round"/><polygon points="436.0,301.5 491.9,333.8 491.9,350.8 436.0,318.5" fill="url(#dside)"/><polygon points="491.9,333.8 503.1,327.2 503.1,344.2 491.9,350.8" fill="url(#dend)"/><polygon points="436.0,301.5 491.9,333.8 503.1,327.2 447.3,295.0" fill="url(#dtop)" stroke="#3b7da8" stroke-width="0.5"/><polygon points="443.5,303.2 449.6,306.5 452.1,305.1 446.1,301.8" fill="#5da3c4" stroke="#2d6a96" stroke-width="0.5" stroke-linejoin="round"/><polyline points="451.1,307.0 453.1,305.8 456.5,303.5 454.9,302.7 452.5,304.5" fill="none" stroke="#2d6a96" stroke-width="0.5" stroke-linejoin="round"/><path d="M450.1 300.7 l-2.0 1.1 l3.0 1.7 l2.2 -1.2 Z" fill="#4a8eb6" stroke="#2d6a96" stroke-width="0.4"/><path d="M451.1 300.5 l0 2.0" stroke="#2d6a96" stroke-width="1.4"/><polygon points="446.0,292.5 452.6,295.7 453.2,302.5 446.6,299.3" fill="#2f6f9c" stroke="#2f6f9c" stroke-width="0.6" stroke-linejoin="round"/><polygon points="446.9,292.1 453.5,295.3 454.1,302.1 447.5,298.9" fill="#fff" stroke="#2f6f9c" stroke-width="0.9" stroke-linejoin="round"/><polygon points="457.3,311.4 463.4,314.7 465.9,313.3 459.9,310.0" fill="#5da3c4" stroke="#2d6a96" stroke-width="0.5" stroke-linejoin="round"/><polyline points="464.9,315.2 466.9,314.0 470.3,311.7 468.7,310.9 466.3,312.7" fill="none" stroke="#2d6a96" stroke-width="0.5" stroke-linejoin="round"/><path d="M463.9 308.9 l-2.0 1.1 l3.0 1.7 l2.2 -1.2 Z" fill="#4a8eb6" stroke="#2d6a96" stroke-width="0.4"/><path d="M464.9 308.7 l0 2.0" stroke="#2d6a96" stroke-width="1.4"/><polygon points="459.8,300.7 466.4,303.9 467.0,310.7 460.4,307.5" fill="#2f6f9c" stroke="#2f6f9c" stroke-width="0.6" stroke-linejoin="round"/><polygon points="460.7,300.3 467.3,303.5 467.9,310.3 461.3,307.1" fill="#fff" stroke="#2f6f9c" stroke-width="0.9" stroke-linejoin="round"/><polygon points="471.1,319.6 477.2,322.9 479.7,321.5 473.7,318.2" fill="#5da3c4" stroke="#2d6a96" stroke-width="0.5" stroke-linejoin="round"/><polyline points="478.7,323.4 480.7,322.2 484.1,319.9 482.5,319.1 480.1,320.9" fill="none" stroke="#2d6a96" stroke-width="0.5" stroke-linejoin="round"/><path d="M477.7 317.1 l-2.0 1.1 l3.0 1.7 l2.2 -1.2 Z" fill="#4a8eb6" stroke="#2d6a96" stroke-width="0.4"/><path d="M478.7 316.9 l0 2.0" stroke="#2d6a96" stroke-width="1.4"/><polygon points="473.6,308.9 480.2,312.1 480.8,318.9 474.2,315.7" fill="#2f6f9c" stroke="#2f6f9c" stroke-width="0.6" stroke-linejoin="round"/><polygon points="474.5,308.5 481.1,311.7 481.7,318.5 475.1,315.3" fill="#fff" stroke="#2f6f9c" stroke-width="0.9" stroke-linejoin="round"/><polygon points="484.9,327.8 491.0,331.1 493.5,329.7 487.5,326.4" fill="#5da3c4" stroke="#2d6a96" stroke-width="0.5" stroke-linejoin="round"/><polyline points="492.5,331.6 494.5,330.4 497.9,328.1 496.3,327.3 493.9,329.1" fill="none" stroke="#2d6a96" stroke-width="0.5" stroke-linejoin="round"/><path d="M491.5 325.3 l-2.0 1.1 l3.0 1.7 l2.2 -1.2 Z" fill="#4a8eb6" stroke="#2d6a96" stroke-width="0.4"/><path d="M492.5 325.1 l0 2.0" stroke="#2d6a96" stroke-width="1.4"/><polygon points="487.4,317.1 494.0,320.3 494.6,327.1 488.0,323.9" fill="#2f6f9c" stroke="#2f6f9c" stroke-width="0.6" stroke-linejoin="round"/><polygon points="488.3,316.7 494.9,319.9 495.5,326.7 488.9,323.5" fill="#fff" stroke="#2f6f9c" stroke-width="0.9" stroke-linejoin="round"/>
<polygon points="336.2,359.8 302.4,379.3 358.3,411.6 380.3,413.6 414.0,394.1 358.2,361.8" fill="#2d6aa3" opacity="0.42"/><polygon points="346.9,351.3 402.8,383.6 402.8,400.6 346.9,368.3" fill="url(#dside)"/><polygon points="402.8,383.6 414.0,377.1 414.0,394.1 402.8,400.6" fill="url(#dend)"/><polygon points="346.9,351.3 402.8,383.6 414.0,377.1 358.2,344.8" fill="url(#dtop)" stroke="#3b7da8" stroke-width="0.5"/><polygon points="354.4,353.0 360.5,356.3 363.0,354.9 357.0,351.6" fill="#5da3c4" stroke="#2d6a96" stroke-width="0.5" stroke-linejoin="round"/><polyline points="362.0,356.8 364.0,355.6 367.4,353.3 365.8,352.5 363.4,354.3" fill="none" stroke="#2d6a96" stroke-width="0.5" stroke-linejoin="round"/><path d="M361.0 350.5 l-2.0 1.1 l3.0 1.7 l2.2 -1.2 Z" fill="#4a8eb6" stroke="#2d6a96" stroke-width="0.4"/><path d="M362.0 350.3 l0 2.0" stroke="#2d6a96" stroke-width="1.4"/><polygon points="356.9,342.3 363.5,345.5 364.1,352.3 357.5,349.1" fill="#2f6f9c" stroke="#2f6f9c" stroke-width="0.6" stroke-linejoin="round"/><polygon points="357.8,341.9 364.4,345.1 365.0,351.9 358.4,348.7" fill="#fff" stroke="#2f6f9c" stroke-width="0.9" stroke-linejoin="round"/><polygon points="368.2,361.2 374.3,364.5 376.8,363.1 370.8,359.8" fill="#5da3c4" stroke="#2d6a96" stroke-width="0.5" stroke-linejoin="round"/><polyline points="375.8,365.0 377.8,363.8 381.2,361.5 379.6,360.7 377.2,362.5" fill="none" stroke="#2d6a96" stroke-width="0.5" stroke-linejoin="round"/><path d="M374.8 358.7 l-2.0 1.1 l3.0 1.7 l2.2 -1.2 Z" fill="#4a8eb6" stroke="#2d6a96" stroke-width="0.4"/><path d="M375.8 358.5 l0 2.0" stroke="#2d6a96" stroke-width="1.4"/><polygon points="370.7,350.5 377.3,353.7 377.9,360.5 371.3,357.3" fill="#2f6f9c" stroke="#2f6f9c" stroke-width="0.6" stroke-linejoin="round"/><polygon points="371.6,350.1 378.2,353.3 378.8,360.1 372.2,356.9" fill="#fff" stroke="#2f6f9c" stroke-width="0.9" stroke-linejoin="round"/><polygon points="382.0,369.4 388.1,372.7 390.6,371.3 384.6,368.0" fill="#5da3c4" stroke="#2d6a96" stroke-width="0.5" stroke-linejoin="round"/><polyline points="389.6,373.2 391.6,372.0 395.0,369.7 393.4,368.9 391.0,370.7" fill="none" stroke="#2d6a96" stroke-width="0.5" stroke-linejoin="round"/><path d="M388.6 366.9 l-2.0 1.1 l3.0 1.7 l2.2 -1.2 Z" fill="#4a8eb6" stroke="#2d6a96" stroke-width="0.4"/><path d="M389.6 366.7 l0 2.0" stroke="#2d6a96" stroke-width="1.4"/><polygon points="384.5,358.7 391.1,361.9 391.7,368.7 385.1,365.5" fill="#2f6f9c" stroke="#2f6f9c" stroke-width="0.6" stroke-linejoin="round"/><polygon points="385.4,358.3 392.0,361.5 392.6,368.3 386.0,365.1" fill="#fff" stroke="#2f6f9c" stroke-width="0.9" stroke-linejoin="round"/><polygon points="395.8,377.6 401.9,380.9 404.4,379.5 398.4,376.2" fill="#5da3c4" stroke="#2d6a96" stroke-width="0.5" stroke-linejoin="round"/><polyline points="403.4,381.4 405.4,380.2 408.8,377.9 407.2,377.1 404.8,378.9" fill="none" stroke="#2d6a96" stroke-width="0.5" stroke-linejoin="round"/><path d="M402.4 375.1 l-2.0 1.1 l3.0 1.7 l2.2 -1.2 Z" fill="#4a8eb6" stroke="#2d6a96" stroke-width="0.4"/><path d="M403.4 374.9 l0 2.0" stroke="#2d6a96" stroke-width="1.4"/><polygon points="398.3,366.9 404.9,370.1 405.5,376.9 398.9,373.7" fill="#2f6f9c" stroke="#2f6f9c" stroke-width="0.6" stroke-linejoin="round"/><polygon points="399.2,366.5 405.8,369.7 406.4,376.5 399.8,373.3" fill="#fff" stroke="#2f6f9c" stroke-width="0.9" stroke-linejoin="round"/><polygon points="324.4,364.3 380.3,396.6 380.3,413.6 324.4,381.3" fill="url(#dside)"/><polygon points="380.3,396.6 391.5,390.1 391.5,407.1 380.3,413.6" fill="url(#dend)"/><polygon points="324.4,364.3 380.3,396.6 391.5,390.1 335.7,357.8" fill="url(#dtop)" stroke="#3b7da8" stroke-width="0.5"/><polygon points="331.9,366.0 338.0,369.3 340.5,367.9 334.5,364.6" fill="#5da3c4" stroke="#2d6a96" stroke-width="0.5" stroke-linejoin="round"/><polyline points="339.5,369.8 341.5,368.6 344.9,366.3 343.3,365.5 340.9,367.3" fill="none" stroke="#2d6a96" stroke-width="0.5" stroke-linejoin="round"/><path d="M338.5 363.5 l-2.0 1.1 l3.0 1.7 l2.2 -1.2 Z" fill="#4a8eb6" stroke="#2d6a96" stroke-width="0.4"/><path d="M339.5 363.3 l0 2.0" stroke="#2d6a96" stroke-width="1.4"/><polygon points="334.4,355.3 341.0,358.5 341.6,365.3 335.0,362.1" fill="#2f6f9c" stroke="#2f6f9c" stroke-width="0.6" stroke-linejoin="round"/><polygon points="335.3,354.9 341.9,358.1 342.5,364.9 335.9,361.7" fill="#fff" stroke="#2f6f9c" stroke-width="0.9" stroke-linejoin="round"/><polygon points="345.7,374.2 351.8,377.5 354.3,376.1 348.3,372.8" fill="#5da3c4" stroke="#2d6a96" stroke-width="0.5" stroke-linejoin="round"/><polyline points="353.3,378.0 355.3,376.8 358.7,374.5 357.1,373.7 354.7,375.5" fill="none" stroke="#2d6a96" stroke-width="0.5" stroke-linejoin="round"/><path d="M352.3 371.7 l-2.0 1.1 l3.0 1.7 l2.2 -1.2 Z" fill="#4a8eb6" stroke="#2d6a96" stroke-width="0.4"/><path d="M353.3 371.5 l0 2.0" stroke="#2d6a96" stroke-width="1.4"/><polygon points="348.2,363.5 354.8,366.7 355.4,373.5 348.8,370.3" fill="#2f6f9c" stroke="#2f6f9c" stroke-width="0.6" stroke-linejoin="round"/><polygon points="349.1,363.1 355.7,366.3 356.3,373.1 349.7,369.9" fill="#fff" stroke="#2f6f9c" stroke-width="0.9" stroke-linejoin="round"/><polygon points="359.5,382.4 365.6,385.7 368.1,384.3 362.1,381.0" fill="#5da3c4" stroke="#2d6a96" stroke-width="0.5" stroke-linejoin="round"/><polyline points="367.1,386.2 369.1,385.0 372.5,382.7 370.9,381.9 368.5,383.7" fill="none" stroke="#2d6a96" stroke-width="0.5" stroke-linejoin="round"/><path d="M366.1 379.9 l-2.0 1.1 l3.0 1.7 l2.2 -1.2 Z" fill="#4a8eb6" stroke="#2d6a96" stroke-width="0.4"/><path d="M367.1 379.7 l0 2.0" stroke="#2d6a96" stroke-width="1.4"/><polygon points="362.0,371.7 368.6,374.9 369.2,381.7 362.6,378.5" fill="#2f6f9c" stroke="#2f6f9c" stroke-width="0.6" stroke-linejoin="round"/><polygon points="362.9,371.3 369.5,374.5 370.1,381.3 363.5,378.1" fill="#fff" stroke="#2f6f9c" stroke-width="0.9" stroke-linejoin="round"/><polygon points="373.3,390.6 379.4,393.9 381.9,392.5 375.9,389.2" fill="#5da3c4" stroke="#2d6a96" stroke-width="0.5" stroke-linejoin="round"/><polyline points="380.9,394.4 382.9,393.2 386.3,390.9 384.7,390.1 382.3,391.9" fill="none" stroke="#2d6a96" stroke-width="0.5" stroke-linejoin="round"/><path d="M379.9 388.1 l-2.0 1.1 l3.0 1.7 l2.2 -1.2 Z" fill="#4a8eb6" stroke="#2d6a96" stroke-width="0.4"/><path d="M380.9 387.9 l0 2.0" stroke="#2d6a96" stroke-width="1.4"/><polygon points="375.8,379.9 382.4,383.1 383.0,389.9 376.4,386.7" fill="#2f6f9c" stroke="#2f6f9c" stroke-width="0.6" stroke-linejoin="round"/><polygon points="376.7,379.5 383.3,382.7 383.9,389.5 377.3,386.3" fill="#fff" stroke="#2f6f9c" stroke-width="0.9" stroke-linejoin="round"/>
<polygon points="227.7,425.4 193.9,444.9 249.8,477.1 271.8,479.1 305.5,459.6 249.7,427.4" fill="#2d6aa3" opacity="0.42"/><polygon points="238.4,416.9 294.3,449.1 294.3,466.1 238.4,433.9" fill="url(#dside)"/><polygon points="294.3,449.1 305.5,442.6 305.5,459.6 294.3,466.1" fill="url(#dend)"/><polygon points="238.4,416.9 294.3,449.1 305.5,442.6 249.7,410.4" fill="url(#dtop)" stroke="#3b7da8" stroke-width="0.5"/><polygon points="245.9,418.6 252.0,421.9 254.5,420.5 248.5,417.2" fill="#5da3c4" stroke="#2d6a96" stroke-width="0.5" stroke-linejoin="round"/><polyline points="253.5,422.4 255.5,421.2 258.9,418.9 257.3,418.1 254.9,419.9" fill="none" stroke="#2d6a96" stroke-width="0.5" stroke-linejoin="round"/><path d="M252.5 416.1 l-2.0 1.1 l3.0 1.7 l2.2 -1.2 Z" fill="#4a8eb6" stroke="#2d6a96" stroke-width="0.4"/><path d="M253.5 415.9 l0 2.0" stroke="#2d6a96" stroke-width="1.4"/><polygon points="248.4,407.9 255.0,411.1 255.6,417.9 249.0,414.7" fill="#2f6f9c" stroke="#2f6f9c" stroke-width="0.6" stroke-linejoin="round"/><polygon points="249.3,407.5 255.9,410.7 256.5,417.5 249.9,414.3" fill="#fff" stroke="#2f6f9c" stroke-width="0.9" stroke-linejoin="round"/><polygon points="259.7,426.8 265.8,430.1 268.3,428.7 262.3,425.4" fill="#5da3c4" stroke="#2d6a96" stroke-width="0.5" stroke-linejoin="round"/><polyline points="267.3,430.6 269.3,429.4 272.7,427.1 271.1,426.3 268.7,428.1" fill="none" stroke="#2d6a96" stroke-width="0.5" stroke-linejoin="round"/><path d="M266.3 424.3 l-2.0 1.1 l3.0 1.7 l2.2 -1.2 Z" fill="#4a8eb6" stroke="#2d6a96" stroke-width="0.4"/><path d="M267.3 424.1 l0 2.0" stroke="#2d6a96" stroke-width="1.4"/><polygon points="262.2,416.1 268.8,419.3 269.4,426.1 262.8,422.9" fill="#2f6f9c" stroke="#2f6f9c" stroke-width="0.6" stroke-linejoin="round"/><polygon points="263.1,415.7 269.7,418.9 270.3,425.7 263.7,422.5" fill="#fff" stroke="#2f6f9c" stroke-width="0.9" stroke-linejoin="round"/><polygon points="273.5,435.0 279.6,438.3 282.1,436.9 276.1,433.6" fill="#5da3c4" stroke="#2d6a96" stroke-width="0.5" stroke-linejoin="round"/><polyline points="281.1,438.8 283.1,437.6 286.5,435.3 284.9,434.5 282.5,436.3" fill="none" stroke="#2d6a96" stroke-width="0.5" stroke-linejoin="round"/><path d="M280.1 432.5 l-2.0 1.1 l3.0 1.7 l2.2 -1.2 Z" fill="#4a8eb6" stroke="#2d6a96" stroke-width="0.4"/><path d="M281.1 432.3 l0 2.0" stroke="#2d6a96" stroke-width="1.4"/><polygon points="276.0,424.3 282.6,427.5 283.2,434.3 276.6,431.1" fill="#2f6f9c" stroke="#2f6f9c" stroke-width="0.6" stroke-linejoin="round"/><polygon points="276.9,423.9 283.5,427.1 284.1,433.9 277.5,430.7" fill="#fff" stroke="#2f6f9c" stroke-width="0.9" stroke-linejoin="round"/><polygon points="287.3,443.2 293.4,446.5 295.9,445.1 289.9,441.8" fill="#5da3c4" stroke="#2d6a96" stroke-width="0.5" stroke-linejoin="round"/><polyline points="294.9,447.0 296.9,445.8 300.3,443.5 298.7,442.7 296.3,444.5" fill="none" stroke="#2d6a96" stroke-width="0.5" stroke-linejoin="round"/><path d="M293.9 440.7 l-2.0 1.1 l3.0 1.7 l2.2 -1.2 Z" fill="#4a8eb6" stroke="#2d6a96" stroke-width="0.4"/><path d="M294.9 440.5 l0 2.0" stroke="#2d6a96" stroke-width="1.4"/><polygon points="289.8,432.5 296.4,435.7 297.0,442.5 290.4,439.3" fill="#2f6f9c" stroke="#2f6f9c" stroke-width="0.6" stroke-linejoin="round"/><polygon points="290.7,432.1 297.3,435.3 297.9,442.1 291.3,438.9" fill="#fff" stroke="#2f6f9c" stroke-width="0.9" stroke-linejoin="round"/><polygon points="215.9,429.9 271.8,462.1 271.8,479.1 215.9,446.9" fill="url(#dside)"/><polygon points="271.8,462.1 283.0,455.6 283.0,472.6 271.8,479.1" fill="url(#dend)"/><polygon points="215.9,429.9 271.8,462.1 283.0,455.6 227.2,423.4" fill="url(#dtop)" stroke="#3b7da8" stroke-width="0.5"/><polygon points="223.4,431.6 229.5,434.9 232.0,433.5 226.0,430.2" fill="#5da3c4" stroke="#2d6a96" stroke-width="0.5" stroke-linejoin="round"/><polyline points="231.0,435.4 233.0,434.2 236.4,431.9 234.8,431.1 232.4,432.9" fill="none" stroke="#2d6a96" stroke-width="0.5" stroke-linejoin="round"/><path d="M230.0 429.1 l-2.0 1.1 l3.0 1.7 l2.2 -1.2 Z" fill="#4a8eb6" stroke="#2d6a96" stroke-width="0.4"/><path d="M231.0 428.9 l0 2.0" stroke="#2d6a96" stroke-width="1.4"/><polygon points="225.9,420.9 232.5,424.1 233.1,430.9 226.5,427.7" fill="#2f6f9c" stroke="#2f6f9c" stroke-width="0.6" stroke-linejoin="round"/><polygon points="226.8,420.5 233.4,423.7 234.0,430.5 227.4,427.3" fill="#fff" stroke="#2f6f9c" stroke-width="0.9" stroke-linejoin="round"/><polygon points="237.2,439.8 243.3,443.1 245.8,441.7 239.8,438.4" fill="#5da3c4" stroke="#2d6a96" stroke-width="0.5" stroke-linejoin="round"/><polyline points="244.8,443.6 246.8,442.4 250.2,440.1 248.6,439.3 246.2,441.1" fill="none" stroke="#2d6a96" stroke-width="0.5" stroke-linejoin="round"/><path d="M243.8 437.3 l-2.0 1.1 l3.0 1.7 l2.2 -1.2 Z" fill="#4a8eb6" stroke="#2d6a96" stroke-width="0.4"/><path d="M244.8 437.1 l0 2.0" stroke="#2d6a96" stroke-width="1.4"/><polygon points="239.7,429.1 246.3,432.3 246.9,439.1 240.3,435.9" fill="#2f6f9c" stroke="#2f6f9c" stroke-width="0.6" stroke-linejoin="round"/><polygon points="240.6,428.7 247.2,431.9 247.8,438.7 241.2,435.5" fill="#fff" stroke="#2f6f9c" stroke-width="0.9" stroke-linejoin="round"/><polygon points="251.0,448.0 257.1,451.3 259.6,449.9 253.6,446.6" fill="#5da3c4" stroke="#2d6a96" stroke-width="0.5" stroke-linejoin="round"/><polyline points="258.6,451.8 260.6,450.6 264.0,448.3 262.4,447.5 260.0,449.3" fill="none" stroke="#2d6a96" stroke-width="0.5" stroke-linejoin="round"/><path d="M257.6 445.5 l-2.0 1.1 l3.0 1.7 l2.2 -1.2 Z" fill="#4a8eb6" stroke="#2d6a96" stroke-width="0.4"/><path d="M258.6 445.3 l0 2.0" stroke="#2d6a96" stroke-width="1.4"/><polygon points="253.5,437.3 260.1,440.5 260.7,447.3 254.1,444.1" fill="#2f6f9c" stroke="#2f6f9c" stroke-width="0.6" stroke-linejoin="round"/><polygon points="254.4,436.9 261.0,440.1 261.6,446.9 255.0,443.7" fill="#fff" stroke="#2f6f9c" stroke-width="0.9" stroke-linejoin="round"/><polygon points="264.8,456.2 270.9,459.5 273.4,458.1 267.4,454.8" fill="#5da3c4" stroke="#2d6a96" stroke-width="0.5" stroke-linejoin="round"/><polyline points="272.4,460.0 274.4,458.8 277.8,456.5 276.2,455.7 273.8,457.5" fill="none" stroke="#2d6a96" stroke-width="0.5" stroke-linejoin="round"/><path d="M271.4 453.7 l-2.0 1.1 l3.0 1.7 l2.2 -1.2 Z" fill="#4a8eb6" stroke="#2d6a96" stroke-width="0.4"/><path d="M272.4 453.5 l0 2.0" stroke="#2d6a96" stroke-width="1.4"/><polygon points="267.3,445.5 273.9,448.7 274.5,455.5 267.9,452.3" fill="#2f6f9c" stroke="#2f6f9c" stroke-width="0.6" stroke-linejoin="round"/><polygon points="268.2,445.1 274.8,448.3 275.4,455.1 268.8,451.9" fill="#fff" stroke="#2f6f9c" stroke-width="0.9" stroke-linejoin="round"/>
<polygon points="350.3,545.0 748.0,314.6 883.2,393.2 485.5,623.6" fill="#3f7aaa"/>
<polygon points="350.3,545.0 483.2,468.0 618.4,546.6 485.5,623.6" fill="url(#fg11)"/>
<polygon points="482.6,468.4 615.7,391.2 750.9,469.8 617.8,547.0" fill="url(#fg12)"/>
<polygon points="615.1,391.6 748.0,314.6 883.2,393.2 750.3,470.2" fill="url(#fg13)"/>
<polygon points="678.1,421.8 644.3,441.3 697.1,471.8 719.1,473.8 752.9,454.3 700.1,423.8" fill="#2d6aa3" opacity="0.42"/><polygon points="688.8,413.3 741.6,443.8 741.6,460.8 688.8,430.3" fill="url(#dside)"/><polygon points="741.6,443.8 752.9,437.3 752.9,454.3 741.6,460.8" fill="url(#dend)"/><polygon points="688.8,413.3 741.6,443.8 752.9,437.3 700.1,406.8" fill="url(#dtop)" stroke="#3b7da8" stroke-width="0.5"/><polygon points="695.3,416.0 701.4,419.3 703.9,417.9 697.9,414.6" fill="#5da3c4" stroke="#2d6a96" stroke-width="0.5" stroke-linejoin="round"/><polyline points="702.9,419.8 704.9,418.6 708.3,416.3 706.7,415.5 704.3,417.3" fill="none" stroke="#2d6a96" stroke-width="0.5" stroke-linejoin="round"/><path d="M701.9 413.5 l-2.0 1.1 l3.0 1.7 l2.2 -1.2 Z" fill="#4a8eb6" stroke="#2d6a96" stroke-width="0.4"/><path d="M702.9 413.3 l0 2.0" stroke="#2d6a96" stroke-width="1.4"/><polygon points="697.8,405.3 704.4,408.5 705.0,415.3 698.4,412.1" fill="#2f6f9c" stroke="#2f6f9c" stroke-width="0.6" stroke-linejoin="round"/><polygon points="698.7,404.9 705.3,408.1 705.9,414.9 699.3,411.7" fill="#fff" stroke="#2f6f9c" stroke-width="0.9" stroke-linejoin="round"/><polygon points="708.8,423.8 714.9,427.1 717.4,425.7 711.4,422.4" fill="#5da3c4" stroke="#2d6a96" stroke-width="0.5" stroke-linejoin="round"/><polyline points="716.4,427.6 718.4,426.4 721.8,424.1 720.2,423.3 717.8,425.1" fill="none" stroke="#2d6a96" stroke-width="0.5" stroke-linejoin="round"/><path d="M715.4 421.3 l-2.0 1.1 l3.0 1.7 l2.2 -1.2 Z" fill="#4a8eb6" stroke="#2d6a96" stroke-width="0.4"/><path d="M716.4 421.1 l0 2.0" stroke="#2d6a96" stroke-width="1.4"/><polygon points="711.3,413.1 717.9,416.3 718.5,423.1 711.9,419.9" fill="#2f6f9c" stroke="#2f6f9c" stroke-width="0.6" stroke-linejoin="round"/><polygon points="712.2,412.7 718.8,415.9 719.4,422.7 712.8,419.5" fill="#fff" stroke="#2f6f9c" stroke-width="0.9" stroke-linejoin="round"/><polygon points="722.3,431.6 728.4,434.9 730.9,433.5 724.9,430.2" fill="#5da3c4" stroke="#2d6a96" stroke-width="0.5" stroke-linejoin="round"/><polyline points="729.9,435.4 731.9,434.2 735.3,431.9 733.7,431.1 731.3,432.9" fill="none" stroke="#2d6a96" stroke-width="0.5" stroke-linejoin="round"/><path d="M728.9 429.1 l-2.0 1.1 l3.0 1.7 l2.2 -1.2 Z" fill="#4a8eb6" stroke="#2d6a96" stroke-width="0.4"/><path d="M729.9 428.9 l0 2.0" stroke="#2d6a96" stroke-width="1.4"/><polygon points="724.8,420.9 731.4,424.1 732.0,430.9 725.4,427.7" fill="#2f6f9c" stroke="#2f6f9c" stroke-width="0.6" stroke-linejoin="round"/><polygon points="725.7,420.5 732.3,423.7 732.9,430.5 726.3,427.3" fill="#fff" stroke="#2f6f9c" stroke-width="0.9" stroke-linejoin="round"/><polygon points="735.8,439.4 741.9,442.7 744.4,441.3 738.4,438.0" fill="#5da3c4" stroke="#2d6a96" stroke-width="0.5" stroke-linejoin="round"/><polyline points="743.4,443.2 745.4,442.0 748.8,439.7 747.2,438.9 744.8,440.7" fill="none" stroke="#2d6a96" stroke-width="0.5" stroke-linejoin="round"/><path d="M742.4 436.9 l-2.0 1.1 l3.0 1.7 l2.2 -1.2 Z" fill="#4a8eb6" stroke="#2d6a96" stroke-width="0.4"/><path d="M743.4 436.7 l0 2.0" stroke="#2d6a96" stroke-width="1.4"/><polygon points="738.3,428.7 744.9,431.9 745.5,438.7 738.9,435.5" fill="#2f6f9c" stroke="#2f6f9c" stroke-width="0.6" stroke-linejoin="round"/><polygon points="739.2,428.3 745.8,431.5 746.4,438.3 739.8,435.1" fill="#fff" stroke="#2f6f9c" stroke-width="0.9" stroke-linejoin="round"/><polygon points="666.3,426.3 719.1,456.8 719.1,473.8 666.3,443.3" fill="url(#dside)"/><polygon points="719.1,456.8 730.4,450.3 730.4,467.3 719.1,473.8" fill="url(#dend)"/><polygon points="666.3,426.3 719.1,456.8 730.4,450.3 677.6,419.8" fill="url(#dtop)" stroke="#3b7da8" stroke-width="0.5"/><polygon points="672.8,429.0 678.9,432.3 681.4,430.9 675.4,427.6" fill="#5da3c4" stroke="#2d6a96" stroke-width="0.5" stroke-linejoin="round"/><polyline points="680.4,432.8 682.4,431.6 685.8,429.3 684.2,428.5 681.8,430.3" fill="none" stroke="#2d6a96" stroke-width="0.5" stroke-linejoin="round"/><path d="M679.4 426.5 l-2.0 1.1 l3.0 1.7 l2.2 -1.2 Z" fill="#4a8eb6" stroke="#2d6a96" stroke-width="0.4"/><path d="M680.4 426.3 l0 2.0" stroke="#2d6a96" stroke-width="1.4"/><polygon points="675.3,418.3 681.9,421.5 682.5,428.3 675.9,425.1" fill="#2f6f9c" stroke="#2f6f9c" stroke-width="0.6" stroke-linejoin="round"/><polygon points="676.2,417.9 682.8,421.1 683.4,427.9 676.8,424.7" fill="#fff" stroke="#2f6f9c" stroke-width="0.9" stroke-linejoin="round"/><polygon points="686.3,436.8 692.4,440.1 694.9,438.7 688.9,435.4" fill="#5da3c4" stroke="#2d6a96" stroke-width="0.5" stroke-linejoin="round"/><polyline points="693.9,440.6 695.9,439.4 699.3,437.1 697.7,436.3 695.3,438.1" fill="none" stroke="#2d6a96" stroke-width="0.5" stroke-linejoin="round"/><path d="M692.9 434.3 l-2.0 1.1 l3.0 1.7 l2.2 -1.2 Z" fill="#4a8eb6" stroke="#2d6a96" stroke-width="0.4"/><path d="M693.9 434.1 l0 2.0" stroke="#2d6a96" stroke-width="1.4"/><polygon points="688.8,426.1 695.4,429.3 696.0,436.1 689.4,432.9" fill="#2f6f9c" stroke="#2f6f9c" stroke-width="0.6" stroke-linejoin="round"/><polygon points="689.7,425.7 696.3,428.9 696.9,435.7 690.3,432.5" fill="#fff" stroke="#2f6f9c" stroke-width="0.9" stroke-linejoin="round"/><polygon points="699.8,444.6 705.9,447.9 708.4,446.5 702.4,443.2" fill="#5da3c4" stroke="#2d6a96" stroke-width="0.5" stroke-linejoin="round"/><polyline points="707.4,448.4 709.4,447.2 712.8,444.9 711.2,444.1 708.8,445.9" fill="none" stroke="#2d6a96" stroke-width="0.5" stroke-linejoin="round"/><path d="M706.4 442.1 l-2.0 1.1 l3.0 1.7 l2.2 -1.2 Z" fill="#4a8eb6" stroke="#2d6a96" stroke-width="0.4"/><path d="M707.4 441.9 l0 2.0" stroke="#2d6a96" stroke-width="1.4"/><polygon points="702.3,433.9 708.9,437.1 709.5,443.9 702.9,440.7" fill="#2f6f9c" stroke="#2f6f9c" stroke-width="0.6" stroke-linejoin="round"/><polygon points="703.2,433.5 709.8,436.7 710.4,443.5 703.8,440.3" fill="#fff" stroke="#2f6f9c" stroke-width="0.9" stroke-linejoin="round"/><polygon points="713.3,452.4 719.4,455.7 721.9,454.3 715.9,451.0" fill="#5da3c4" stroke="#2d6a96" stroke-width="0.5" stroke-linejoin="round"/><polyline points="720.9,456.2 722.9,455.0 726.3,452.7 724.7,451.9 722.3,453.7" fill="none" stroke="#2d6a96" stroke-width="0.5" stroke-linejoin="round"/><path d="M719.9 449.9 l-2.0 1.1 l3.0 1.7 l2.2 -1.2 Z" fill="#4a8eb6" stroke="#2d6a96" stroke-width="0.4"/><path d="M720.9 449.7 l0 2.0" stroke="#2d6a96" stroke-width="1.4"/><polygon points="715.8,441.7 722.4,444.9 723.0,451.7 716.4,448.5" fill="#2f6f9c" stroke="#2f6f9c" stroke-width="0.6" stroke-linejoin="round"/><polygon points="716.7,441.3 723.3,444.5 723.9,451.3 717.3,448.1" fill="#fff" stroke="#2f6f9c" stroke-width="0.9" stroke-linejoin="round"/>
<polygon points="567.1,486.3 533.3,505.8 586.1,536.3 608.1,538.3 641.9,518.8 589.1,488.3" fill="#2d6aa3" opacity="0.42"/><polygon points="577.8,477.8 630.6,508.3 630.6,525.3 577.8,494.8" fill="url(#dside)"/><polygon points="630.6,508.3 641.9,501.8 641.9,518.8 630.6,525.3" fill="url(#dend)"/><polygon points="577.8,477.8 630.6,508.3 641.9,501.8 589.1,471.3" fill="url(#dtop)" stroke="#3b7da8" stroke-width="0.5"/><polygon points="584.3,480.5 590.4,483.8 592.9,482.4 586.9,479.1" fill="#5da3c4" stroke="#2d6a96" stroke-width="0.5" stroke-linejoin="round"/><polyline points="591.9,484.3 593.9,483.1 597.3,480.8 595.7,480.0 593.3,481.8" fill="none" stroke="#2d6a96" stroke-width="0.5" stroke-linejoin="round"/><path d="M590.9 478.0 l-2.0 1.1 l3.0 1.7 l2.2 -1.2 Z" fill="#4a8eb6" stroke="#2d6a96" stroke-width="0.4"/><path d="M591.9 477.8 l0 2.0" stroke="#2d6a96" stroke-width="1.4"/><polygon points="586.8,469.8 593.4,473.0 594.0,479.8 587.4,476.6" fill="#2f6f9c" stroke="#2f6f9c" stroke-width="0.6" stroke-linejoin="round"/><polygon points="587.7,469.4 594.3,472.6 594.9,479.4 588.3,476.2" fill="#fff" stroke="#2f6f9c" stroke-width="0.9" stroke-linejoin="round"/><polygon points="597.8,488.3 603.9,491.6 606.4,490.2 600.4,486.9" fill="#5da3c4" stroke="#2d6a96" stroke-width="0.5" stroke-linejoin="round"/><polyline points="605.4,492.1 607.4,490.9 610.8,488.6 609.2,487.8 606.8,489.6" fill="none" stroke="#2d6a96" stroke-width="0.5" stroke-linejoin="round"/><path d="M604.4 485.8 l-2.0 1.1 l3.0 1.7 l2.2 -1.2 Z" fill="#4a8eb6" stroke="#2d6a96" stroke-width="0.4"/><path d="M605.4 485.6 l0 2.0" stroke="#2d6a96" stroke-width="1.4"/><polygon points="600.3,477.6 606.9,480.8 607.5,487.6 600.9,484.4" fill="#2f6f9c" stroke="#2f6f9c" stroke-width="0.6" stroke-linejoin="round"/><polygon points="601.2,477.2 607.8,480.4 608.4,487.2 601.8,484.0" fill="#fff" stroke="#2f6f9c" stroke-width="0.9" stroke-linejoin="round"/><polygon points="611.3,496.1 617.4,499.4 619.9,498.0 613.9,494.7" fill="#5da3c4" stroke="#2d6a96" stroke-width="0.5" stroke-linejoin="round"/><polyline points="618.9,499.9 620.9,498.7 624.3,496.4 622.7,495.6 620.3,497.4" fill="none" stroke="#2d6a96" stroke-width="0.5" stroke-linejoin="round"/><path d="M617.9 493.6 l-2.0 1.1 l3.0 1.7 l2.2 -1.2 Z" fill="#4a8eb6" stroke="#2d6a96" stroke-width="0.4"/><path d="M618.9 493.4 l0 2.0" stroke="#2d6a96" stroke-width="1.4"/><polygon points="613.8,485.4 620.4,488.6 621.0,495.4 614.4,492.2" fill="#2f6f9c" stroke="#2f6f9c" stroke-width="0.6" stroke-linejoin="round"/><polygon points="614.7,485.0 621.3,488.2 621.9,495.0 615.3,491.8" fill="#fff" stroke="#2f6f9c" stroke-width="0.9" stroke-linejoin="round"/><polygon points="624.8,503.9 630.9,507.2 633.4,505.8 627.4,502.5" fill="#5da3c4" stroke="#2d6a96" stroke-width="0.5" stroke-linejoin="round"/><polyline points="632.4,507.7 634.4,506.5 637.8,504.2 636.2,503.4 633.8,505.2" fill="none" stroke="#2d6a96" stroke-width="0.5" stroke-linejoin="round"/><path d="M631.4 501.4 l-2.0 1.1 l3.0 1.7 l2.2 -1.2 Z" fill="#4a8eb6" stroke="#2d6a96" stroke-width="0.4"/><path d="M632.4 501.2 l0 2.0" stroke="#2d6a96" stroke-width="1.4"/><polygon points="627.3,493.2 633.9,496.4 634.5,503.2 627.9,500.0" fill="#2f6f9c" stroke="#2f6f9c" stroke-width="0.6" stroke-linejoin="round"/><polygon points="628.2,492.8 634.8,496.0 635.4,502.8 628.8,499.6" fill="#fff" stroke="#2f6f9c" stroke-width="0.9" stroke-linejoin="round"/><polygon points="555.3,490.8 608.1,521.3 608.1,538.3 555.3,507.8" fill="url(#dside)"/><polygon points="608.1,521.3 619.4,514.8 619.4,531.8 608.1,538.3" fill="url(#dend)"/><polygon points="555.3,490.8 608.1,521.3 619.4,514.8 566.6,484.3" fill="url(#dtop)" stroke="#3b7da8" stroke-width="0.5"/><polygon points="561.8,493.5 567.9,496.8 570.4,495.4 564.4,492.1" fill="#5da3c4" stroke="#2d6a96" stroke-width="0.5" stroke-linejoin="round"/><polyline points="569.4,497.3 571.4,496.1 574.8,493.8 573.2,493.0 570.8,494.8" fill="none" stroke="#2d6a96" stroke-width="0.5" stroke-linejoin="round"/><path d="M568.4 491.0 l-2.0 1.1 l3.0 1.7 l2.2 -1.2 Z" fill="#4a8eb6" stroke="#2d6a96" stroke-width="0.4"/><path d="M569.4 490.8 l0 2.0" stroke="#2d6a96" stroke-width="1.4"/><polygon points="564.3,482.8 570.9,486.0 571.5,492.8 564.9,489.6" fill="#2f6f9c" stroke="#2f6f9c" stroke-width="0.6" stroke-linejoin="round"/><polygon points="565.2,482.4 571.8,485.6 572.4,492.4 565.8,489.2" fill="#fff" stroke="#2f6f9c" stroke-width="0.9" stroke-linejoin="round"/><polygon points="575.3,501.3 581.4,504.6 583.9,503.2 577.9,499.9" fill="#5da3c4" stroke="#2d6a96" stroke-width="0.5" stroke-linejoin="round"/><polyline points="582.9,505.1 584.9,503.9 588.3,501.6 586.7,500.8 584.3,502.6" fill="none" stroke="#2d6a96" stroke-width="0.5" stroke-linejoin="round"/><path d="M581.9 498.8 l-2.0 1.1 l3.0 1.7 l2.2 -1.2 Z" fill="#4a8eb6" stroke="#2d6a96" stroke-width="0.4"/><path d="M582.9 498.6 l0 2.0" stroke="#2d6a96" stroke-width="1.4"/><polygon points="577.8,490.6 584.4,493.8 585.0,500.6 578.4,497.4" fill="#2f6f9c" stroke="#2f6f9c" stroke-width="0.6" stroke-linejoin="round"/><polygon points="578.7,490.2 585.3,493.4 585.9,500.2 579.3,497.0" fill="#fff" stroke="#2f6f9c" stroke-width="0.9" stroke-linejoin="round"/><polygon points="588.8,509.1 594.9,512.4 597.4,511.0 591.4,507.7" fill="#5da3c4" stroke="#2d6a96" stroke-width="0.5" stroke-linejoin="round"/><polyline points="596.4,512.9 598.4,511.7 601.8,509.4 600.2,508.6 597.8,510.4" fill="none" stroke="#2d6a96" stroke-width="0.5" stroke-linejoin="round"/><path d="M595.4 506.6 l-2.0 1.1 l3.0 1.7 l2.2 -1.2 Z" fill="#4a8eb6" stroke="#2d6a96" stroke-width="0.4"/><path d="M596.4 506.4 l0 2.0" stroke="#2d6a96" stroke-width="1.4"/><polygon points="591.3,498.4 597.9,501.6 598.5,508.4 591.9,505.2" fill="#2f6f9c" stroke="#2f6f9c" stroke-width="0.6" stroke-linejoin="round"/><polygon points="592.2,498.0 598.8,501.2 599.4,508.0 592.8,504.8" fill="#fff" stroke="#2f6f9c" stroke-width="0.9" stroke-linejoin="round"/><polygon points="602.3,516.9 608.4,520.2 610.9,518.8 604.9,515.5" fill="#5da3c4" stroke="#2d6a96" stroke-width="0.5" stroke-linejoin="round"/><polyline points="609.9,520.7 611.9,519.5 615.3,517.2 613.7,516.4 611.3,518.2" fill="none" stroke="#2d6a96" stroke-width="0.5" stroke-linejoin="round"/><path d="M608.9 514.4 l-2.0 1.1 l3.0 1.7 l2.2 -1.2 Z" fill="#4a8eb6" stroke="#2d6a96" stroke-width="0.4"/><path d="M609.9 514.2 l0 2.0" stroke="#2d6a96" stroke-width="1.4"/><polygon points="604.8,506.2 611.4,509.4 612.0,516.2 605.4,513.0" fill="#2f6f9c" stroke="#2f6f9c" stroke-width="0.6" stroke-linejoin="round"/><polygon points="605.7,505.8 612.3,509.0 612.9,515.8 606.3,512.6" fill="#fff" stroke="#2f6f9c" stroke-width="0.9" stroke-linejoin="round"/>
<polygon points="444.0,557.2 410.2,576.7 465.2,608.5 487.2,610.5 521.0,591.0 466.0,559.2" fill="#2d6aa3" opacity="0.42"/><polygon points="454.7,548.7 509.7,580.5 509.7,597.5 454.7,565.7" fill="url(#dside)"/><polygon points="509.7,580.5 521.0,574.0 521.0,591.0 509.7,597.5" fill="url(#dend)"/><polygon points="454.7,548.7 509.7,580.5 521.0,574.0 466.0,542.2" fill="url(#dtop)" stroke="#3b7da8" stroke-width="0.5"/><polygon points="461.2,551.4 467.3,554.7 469.8,553.3 463.8,550.0" fill="#5da3c4" stroke="#2d6a96" stroke-width="0.5" stroke-linejoin="round"/><polyline points="468.8,555.2 470.8,554.0 474.2,551.7 472.6,550.9 470.2,552.7" fill="none" stroke="#2d6a96" stroke-width="0.5" stroke-linejoin="round"/><path d="M467.8 548.9 l-2.0 1.1 l3.0 1.7 l2.2 -1.2 Z" fill="#4a8eb6" stroke="#2d6a96" stroke-width="0.4"/><path d="M468.8 548.7 l0 2.0" stroke="#2d6a96" stroke-width="1.4"/><polygon points="463.7,540.7 470.3,543.9 470.9,550.7 464.3,547.5" fill="#2f6f9c" stroke="#2f6f9c" stroke-width="0.6" stroke-linejoin="round"/><polygon points="464.6,540.3 471.2,543.5 471.8,550.3 465.2,547.1" fill="#fff" stroke="#2f6f9c" stroke-width="0.9" stroke-linejoin="round"/><polygon points="475.0,559.4 481.1,562.7 483.6,561.3 477.6,558.0" fill="#5da3c4" stroke="#2d6a96" stroke-width="0.5" stroke-linejoin="round"/><polyline points="482.6,563.2 484.6,562.0 488.0,559.7 486.4,558.9 484.0,560.7" fill="none" stroke="#2d6a96" stroke-width="0.5" stroke-linejoin="round"/><path d="M481.6 556.9 l-2.0 1.1 l3.0 1.7 l2.2 -1.2 Z" fill="#4a8eb6" stroke="#2d6a96" stroke-width="0.4"/><path d="M482.6 556.7 l0 2.0" stroke="#2d6a96" stroke-width="1.4"/><polygon points="477.5,548.7 484.1,551.9 484.7,558.7 478.1,555.5" fill="#2f6f9c" stroke="#2f6f9c" stroke-width="0.6" stroke-linejoin="round"/><polygon points="478.4,548.3 485.0,551.5 485.6,558.3 479.0,555.1" fill="#fff" stroke="#2f6f9c" stroke-width="0.9" stroke-linejoin="round"/><polygon points="488.8,567.4 494.9,570.7 497.4,569.3 491.4,566.0" fill="#5da3c4" stroke="#2d6a96" stroke-width="0.5" stroke-linejoin="round"/><polyline points="496.4,571.2 498.4,570.0 501.8,567.7 500.2,566.9 497.8,568.7" fill="none" stroke="#2d6a96" stroke-width="0.5" stroke-linejoin="round"/><path d="M495.4 564.9 l-2.0 1.1 l3.0 1.7 l2.2 -1.2 Z" fill="#4a8eb6" stroke="#2d6a96" stroke-width="0.4"/><path d="M496.4 564.7 l0 2.0" stroke="#2d6a96" stroke-width="1.4"/><polygon points="491.3,556.7 497.9,559.9 498.5,566.7 491.9,563.5" fill="#2f6f9c" stroke="#2f6f9c" stroke-width="0.6" stroke-linejoin="round"/><polygon points="492.2,556.3 498.8,559.5 499.4,566.3 492.8,563.1" fill="#fff" stroke="#2f6f9c" stroke-width="0.9" stroke-linejoin="round"/><polygon points="502.6,575.4 508.7,578.7 511.2,577.3 505.2,574.0" fill="#5da3c4" stroke="#2d6a96" stroke-width="0.5" stroke-linejoin="round"/><polyline points="510.2,579.2 512.2,578.0 515.6,575.7 514.0,574.9 511.6,576.7" fill="none" stroke="#2d6a96" stroke-width="0.5" stroke-linejoin="round"/><path d="M509.2 572.9 l-2.0 1.1 l3.0 1.7 l2.2 -1.2 Z" fill="#4a8eb6" stroke="#2d6a96" stroke-width="0.4"/><path d="M510.2 572.7 l0 2.0" stroke="#2d6a96" stroke-width="1.4"/><polygon points="505.1,564.7 511.7,567.9 512.3,574.7 505.7,571.5" fill="#2f6f9c" stroke="#2f6f9c" stroke-width="0.6" stroke-linejoin="round"/><polygon points="506.0,564.3 512.6,567.5 513.2,574.3 506.6,571.1" fill="#fff" stroke="#2f6f9c" stroke-width="0.9" stroke-linejoin="round"/><polygon points="432.2,561.7 487.2,593.5 487.2,610.5 432.2,578.7" fill="url(#dside)"/><polygon points="487.2,593.5 498.5,587.0 498.5,604.0 487.2,610.5" fill="url(#dend)"/><polygon points="432.2,561.7 487.2,593.5 498.5,587.0 443.5,555.2" fill="url(#dtop)" stroke="#3b7da8" stroke-width="0.5"/><polygon points="438.7,564.4 444.8,567.7 447.3,566.3 441.3,563.0" fill="#5da3c4" stroke="#2d6a96" stroke-width="0.5" stroke-linejoin="round"/><polyline points="446.3,568.2 448.3,567.0 451.7,564.7 450.1,563.9 447.7,565.7" fill="none" stroke="#2d6a96" stroke-width="0.5" stroke-linejoin="round"/><path d="M445.3 561.9 l-2.0 1.1 l3.0 1.7 l2.2 -1.2 Z" fill="#4a8eb6" stroke="#2d6a96" stroke-width="0.4"/><path d="M446.3 561.7 l0 2.0" stroke="#2d6a96" stroke-width="1.4"/><polygon points="441.2,553.7 447.8,556.9 448.4,563.7 441.8,560.5" fill="#2f6f9c" stroke="#2f6f9c" stroke-width="0.6" stroke-linejoin="round"/><polygon points="442.1,553.3 448.7,556.5 449.3,563.3 442.7,560.1" fill="#fff" stroke="#2f6f9c" stroke-width="0.9" stroke-linejoin="round"/><polygon points="452.5,572.4 458.6,575.7 461.1,574.3 455.1,571.0" fill="#5da3c4" stroke="#2d6a96" stroke-width="0.5" stroke-linejoin="round"/><polyline points="460.1,576.2 462.1,575.0 465.5,572.7 463.9,571.9 461.5,573.7" fill="none" stroke="#2d6a96" stroke-width="0.5" stroke-linejoin="round"/><path d="M459.1 569.9 l-2.0 1.1 l3.0 1.7 l2.2 -1.2 Z" fill="#4a8eb6" stroke="#2d6a96" stroke-width="0.4"/><path d="M460.1 569.7 l0 2.0" stroke="#2d6a96" stroke-width="1.4"/><polygon points="455.0,561.7 461.6,564.9 462.2,571.7 455.6,568.5" fill="#2f6f9c" stroke="#2f6f9c" stroke-width="0.6" stroke-linejoin="round"/><polygon points="455.9,561.3 462.5,564.5 463.1,571.3 456.5,568.1" fill="#fff" stroke="#2f6f9c" stroke-width="0.9" stroke-linejoin="round"/><polygon points="466.3,580.4 472.4,583.7 474.9,582.3 468.9,579.0" fill="#5da3c4" stroke="#2d6a96" stroke-width="0.5" stroke-linejoin="round"/><polyline points="473.9,584.2 475.9,583.0 479.3,580.7 477.7,579.9 475.3,581.7" fill="none" stroke="#2d6a96" stroke-width="0.5" stroke-linejoin="round"/><path d="M472.9 577.9 l-2.0 1.1 l3.0 1.7 l2.2 -1.2 Z" fill="#4a8eb6" stroke="#2d6a96" stroke-width="0.4"/><path d="M473.9 577.7 l0 2.0" stroke="#2d6a96" stroke-width="1.4"/><polygon points="468.8,569.7 475.4,572.9 476.0,579.7 469.4,576.5" fill="#2f6f9c" stroke="#2f6f9c" stroke-width="0.6" stroke-linejoin="round"/><polygon points="469.7,569.3 476.3,572.5 476.9,579.3 470.3,576.1" fill="#fff" stroke="#2f6f9c" stroke-width="0.9" stroke-linejoin="round"/><polygon points="480.1,588.4 486.2,591.7 488.7,590.3 482.7,587.0" fill="#5da3c4" stroke="#2d6a96" stroke-width="0.5" stroke-linejoin="round"/><polyline points="487.7,592.2 489.7,591.0 493.1,588.7 491.5,587.9 489.1,589.7" fill="none" stroke="#2d6a96" stroke-width="0.5" stroke-linejoin="round"/><path d="M486.7 585.9 l-2.0 1.1 l3.0 1.7 l2.2 -1.2 Z" fill="#4a8eb6" stroke="#2d6a96" stroke-width="0.4"/><path d="M487.7 585.7 l0 2.0" stroke="#2d6a96" stroke-width="1.4"/><polygon points="482.6,577.7 489.2,580.9 489.8,587.7 483.2,584.5" fill="#2f6f9c" stroke="#2f6f9c" stroke-width="0.6" stroke-linejoin="round"/><polygon points="483.5,577.3 490.1,580.5 490.7,587.3 484.1,584.1" fill="#fff" stroke="#2f6f9c" stroke-width="0.9" stroke-linejoin="round"/>
<polyline points="443.0,205.8 474.3,225.7 175.8,403.6 159.4,393.7" fill="none" stroke="#e43326" stroke-width="3.2" stroke-linejoin="miter"/>
<polyline points="370.8,265.8 388.3,276.2" fill="none" stroke="#e43326" stroke-width="3.2" stroke-linejoin="miter"/>
<polyline points="272.5,323.9 289.1,334.0" fill="none" stroke="#e43326" stroke-width="3.2" stroke-linejoin="miter"/>
<polyline points="445.6,171.6 587.3,87.8 737.0,174.2" fill="none" stroke="#e43326" stroke-width="2.2" stroke-linejoin="miter"/>
<polyline points="642.8,311.4 650.4,317.8 340.6,500.6 325.7,492.4" fill="none" stroke="#e43326" stroke-width="3.2" stroke-linejoin="miter"/>
<polyline points="561.9,353.8 575.2,361.5" fill="none" stroke="#e43326" stroke-width="3.2" stroke-linejoin="miter"/>
<polyline points="433.7,424.6 449.7,433.8" fill="none" stroke="#e43326" stroke-width="3.2" stroke-linejoin="miter"/>
<polyline points="632.9,273.1 753.4,200.5" fill="none" stroke="#e43326" stroke-width="2.8" stroke-linejoin="miter"/>
<polyline points="727.7,179.8 598.7,256.1" fill="none" stroke="#e43326" stroke-width="2.8" stroke-linejoin="miter"/>
<polyline points="729.7,184.6 603.5,260.1" fill="none" stroke="#e43326" stroke-width="2.8" stroke-linejoin="miter"/>
<polyline points="732.8,189.5 608.2,264.1" fill="none" stroke="#e43326" stroke-width="2.8" stroke-linejoin="miter"/>
<line x1="346.7" y1="301.7" x2="556" y2="433" stroke="#e43326" stroke-width="3" stroke-dasharray="3 3.1"/>
<polygon points="524.3,257.0 581.3,286.2 613.8,267.2 556.8,238.0" fill="url(#msTop)"/><polygon points="581.3,286.2 613.8,267.2 613.8,274.8 581.3,294.4" fill="#1f4d7c"/><polygon points="524.3,257.0 581.3,286.2 581.3,294.4 524.3,265.2" fill="#3f7fb2"/><polygon points="524.3,257.0 581.3,286.2 581.3,287.2 524.3,258.0" fill="#7ab7d8"/><polygon points="522.5,256.0 524.6,257.0 524.6,265.2 522.5,264.2" fill="#3672a8"/><polygon points="578.5,284.8 581.3,286.2 581.3,296.0 578.5,294.6" fill="#3672a8"/><circle cx="579.9" cy="292.8" r="0.9" fill="#1f4d7c"/><g transform="matrix(0.9500 0.4867 0 1 524.3 257.0)"><rect x="5.5" y="3.0" width="5.6" height="3.4" fill="#a4a9b2" stroke="#2a5a8a" stroke-width="0.5"/><rect x="13.2" y="3.0" width="5.6" height="3.4" fill="#a4a9b2" stroke="#2a5a8a" stroke-width="0.5"/><rect x="20.9" y="3.0" width="5.6" height="3.4" fill="#a4a9b2" stroke="#2a5a8a" stroke-width="0.5"/><rect x="37.0" y="3.0" width="5.6" height="3.4" fill="#a4a9b2" stroke="#2a5a8a" stroke-width="0.5"/><rect x="44.7" y="3.0" width="5.6" height="3.4" fill="#a4a9b2" stroke="#2a5a8a" stroke-width="0.5"/><rect x="29.0" y="3.8" width="5.6" height="2.2" fill="#27578a"/></g>
<path d="M728.3 129.1 L728.3 182.8 Q728.3 185.3 730.8 186.4 L754.6 200.3 L754.6 142.6 Z" fill="url(#cabL)"/><path d="M780.9 129.1 L780.9 182.8 Q780.9 185.3 778.4 186.4 L754.6 200.3 L754.6 142.6 Z" fill="url(#cabR)"/><path d="M731.3 125.3 Q728.3 127.1 731.3 128.9 L751.6 140.8 Q754.6 142.6 757.6 140.8 L777.9 128.9 Q780.9 127.1 777.9 125.3 L757.6 113.4 Q754.6 111.6 751.6 113.4 Z" fill="url(#cabT)" stroke="#6fb4d6" stroke-width="0.8"/><g transform="matrix(0.866 0.5 0 1 728.3 127.1)"><rect x="2.2" y="6.5" width="25.6" height="48.5" rx="1.2" fill="#2a5f90" stroke="#5aa5cc" stroke-width="0.5"/><rect x="3.6" y="8.6" width="22.8" height="9.2" fill="#4b98c2"/><rect x="3.6" y="8.6" width="22.8" height="3.2" fill="#5fb0d2"/><rect x="3.6" y="19.2" width="22.8" height="19.5" fill="#2f6796"/><rect x="4.6" y="20.4" width="1.4" height="8.0" fill="#bcd9ea" opacity="0.85"/><rect x="4.6" y="30.0" width="1.4" height="7.4" fill="#9cc6e0" opacity="0.7"/><rect x="7.4" y="20.4" width="1.4" height="17.0" fill="#bcd9ea" opacity="0.85"/><rect x="7.4" y="30.0" width="1.4" height="7.4" fill="#9cc6e0" opacity="0.7"/><rect x="10.2" y="20.4" width="1.4" height="8.0" fill="#bcd9ea" opacity="0.85"/><rect x="10.2" y="30.0" width="1.4" height="7.4" fill="#9cc6e0" opacity="0.7"/><rect x="14.6" y="20.4" width="1.4" height="17.0" fill="#bcd9ea" opacity="0.85"/><rect x="14.6" y="30.0" width="1.4" height="7.4" fill="#9cc6e0" opacity="0.7"/><rect x="17.4" y="20.4" width="1.4" height="8.0" fill="#bcd9ea" opacity="0.85"/><rect x="17.4" y="30.0" width="1.4" height="7.4" fill="#9cc6e0" opacity="0.7"/><rect x="20.2" y="20.4" width="1.4" height="17.0" fill="#bcd9ea" opacity="0.85"/><rect x="20.2" y="30.0" width="1.4" height="7.4" fill="#9cc6e0" opacity="0.7"/><rect x="23.0" y="20.4" width="1.4" height="8.0" fill="#bcd9ea" opacity="0.85"/><rect x="23.0" y="30.0" width="1.4" height="7.4" fill="#9cc6e0" opacity="0.7"/><rect x="3.6" y="40.2" width="22.8" height="5.4" fill="#b9d9ee"/><rect x="3.6" y="40.2" width="22.8" height="1.6" fill="#8ec0e0"/><rect x="4.6" y="47.4" width="4.2" height="5.4" fill="#21507c" stroke="#5a9cc5" stroke-width="0.4"/><rect x="10.2" y="47.4" width="4.2" height="5.4" fill="#21507c" stroke="#5a9cc5" stroke-width="0.4"/><rect x="15.8" y="47.4" width="4.2" height="5.4" fill="#21507c" stroke="#5a9cc5" stroke-width="0.4"/><rect x="21.4" y="47.4" width="4.2" height="5.4" fill="#21507c" stroke="#5a9cc5" stroke-width="0.4"/></g>
<path d="M338.20 252.90 L338.20 259.91 Q338.20 261.30 339.88 262.22 L358.70 273.40 L358.70 252.90 Z" fill="#3670a8"/><path d="M379.20 252.90 L379.20 259.91 Q379.20 261.30 377.52 262.22 L358.70 273.40 L358.70 252.90 Z" fill="url(#swright)"/><path d="M340.81 254.65 Q337.90 252.90 340.81 251.15 L355.79 242.15 Q358.70 240.40 361.61 242.15 L376.59 251.15 Q379.50 252.90 376.59 254.65 L361.61 263.65 Q358.70 265.40 355.79 263.65 Z" fill="url(#swtop)" stroke="#7db9d3" stroke-width="0.40"/><path d="M347.88 248.48 L355.93 248.48 C357.58 248.48 359.82 256.93 361.47 256.93 L369.52 256.93 M347.88 256.93 L355.93 256.93 C357.58 256.93 359.82 248.48 361.47 248.48 L369.52 248.48 " fill="none" stroke="#2f6c9c" stroke-opacity="0.5" stroke-width="0.89" transform="translate(0.5 0.7)"/><path d="M347.88 248.48 L355.93 248.48 C357.58 248.48 359.82 256.93 361.47 256.93 L369.52 256.93 M347.88 256.93 L355.93 256.93 C357.58 256.93 359.82 248.48 361.47 248.48 L369.52 248.48 " fill="none" stroke="#fff" stroke-width="0.89"/><polygon points="347.3,248.5 350.3,246.6 350.3,250.3" fill="#fff"/><polygon points="347.3,256.9 350.3,255.1 350.3,258.8" fill="#fff"/><polygon points="370.1,248.5 367.1,246.6 367.1,250.3" fill="#fff"/><polygon points="370.1,256.9 367.1,255.1 367.1,258.8" fill="#fff"/><text transform="matrix(0.866 0.5 0 1 339.30 259.00)" font-family="'Liberation Sans',sans-serif" font-weight="bold" font-size="5.40" fill="#e3ecf6" letter-spacing="0.00">SWITCH</text>
<path d="M239.30 315.90 L239.30 322.91 Q239.30 324.30 240.98 325.22 L259.80 336.40 L259.80 315.90 Z" fill="#3670a8"/><path d="M280.30 315.90 L280.30 322.91 Q280.30 324.30 278.62 325.22 L259.80 336.40 L259.80 315.90 Z" fill="url(#swright)"/><path d="M241.91 317.65 Q239.00 315.90 241.91 314.15 L256.89 305.15 Q259.80 303.40 262.71 305.15 L277.69 314.15 Q280.60 315.90 277.69 317.65 L262.71 326.65 Q259.80 328.40 256.89 326.65 Z" fill="url(#swtop)" stroke="#7db9d3" stroke-width="0.40"/><path d="M248.98 311.48 L257.03 311.48 C258.68 311.48 260.92 319.93 262.57 319.93 L270.62 319.93 M248.98 319.93 L257.03 319.93 C258.68 319.93 260.92 311.48 262.57 311.48 L270.62 311.48 " fill="none" stroke="#2f6c9c" stroke-opacity="0.5" stroke-width="0.89" transform="translate(0.5 0.7)"/><path d="M248.98 311.48 L257.03 311.48 C258.68 311.48 260.92 319.93 262.57 319.93 L270.62 319.93 M248.98 319.93 L257.03 319.93 C258.68 319.93 260.92 311.48 262.57 311.48 L270.62 311.48 " fill="none" stroke="#fff" stroke-width="0.89"/><polygon points="248.4,311.5 251.4,309.6 251.4,313.3" fill="#fff"/><polygon points="248.4,319.9 251.4,318.1 251.4,321.8" fill="#fff"/><polygon points="271.2,311.5 268.2,309.6 268.2,313.3" fill="#fff"/><polygon points="271.2,319.9 268.2,318.1 268.2,321.8" fill="#fff"/><text transform="matrix(0.866 0.5 0 1 240.40 322.00)" font-family="'Liberation Sans',sans-serif" font-weight="bold" font-size="5.40" fill="#e3ecf6" letter-spacing="0.00">SWITCH</text>
<path d="M124.90 380.40 L124.90 387.41 Q124.90 388.80 126.58 389.72 L145.40 400.90 L145.40 380.40 Z" fill="#3670a8"/><path d="M165.90 380.40 L165.90 387.41 Q165.90 388.80 164.22 389.72 L145.40 400.90 L145.40 380.40 Z" fill="url(#swright)"/><path d="M127.51 382.15 Q124.60 380.40 127.51 378.65 L142.49 369.65 Q145.40 367.90 148.31 369.65 L163.29 378.65 Q166.20 380.40 163.29 382.15 L148.31 391.15 Q145.40 392.90 142.49 391.15 Z" fill="url(#swtop)" stroke="#7db9d3" stroke-width="0.40"/><path d="M134.58 375.98 L142.63 375.98 C144.28 375.98 146.52 384.43 148.17 384.43 L156.22 384.43 M134.58 384.43 L142.63 384.43 C144.28 384.43 146.52 375.98 148.17 375.98 L156.22 375.98 " fill="none" stroke="#2f6c9c" stroke-opacity="0.5" stroke-width="0.89" transform="translate(0.5 0.7)"/><path d="M134.58 375.98 L142.63 375.98 C144.28 375.98 146.52 384.43 148.17 384.43 L156.22 384.43 M134.58 384.43 L142.63 384.43 C144.28 384.43 146.52 375.98 148.17 375.98 L156.22 375.98 " fill="none" stroke="#fff" stroke-width="0.89"/><polygon points="134.0,376.0 137.0,374.1 137.0,377.8" fill="#fff"/><polygon points="134.0,384.4 137.0,382.6 137.0,386.3" fill="#fff"/><polygon points="156.8,376.0 153.8,374.1 153.8,377.8" fill="#fff"/><polygon points="156.8,384.4 153.8,382.6 153.8,386.3" fill="#fff"/><text transform="matrix(0.866 0.5 0 1 126.00 386.50)" font-family="'Liberation Sans',sans-serif" font-weight="bold" font-size="5.40" fill="#e3ecf6" letter-spacing="0.00">SWITCH</text>
<path d="M393.90 185.00 L393.90 195.00 Q393.90 197.10 396.60 198.50 L425.20 215.70 L425.20 185.00 Z" fill="#3670a8"/><path d="M456.50 185.00 L456.50 195.00 Q456.50 197.10 453.80 198.50 L425.20 215.70 L425.20 185.00 Z" fill="url(#swright)"/><path d="M398.02 187.69 Q393.60 185.00 398.02 182.31 L420.78 168.49 Q425.20 165.80 429.62 168.49 L452.38 182.31 Q456.80 185.00 452.38 187.69 L429.62 201.51 Q425.20 204.20 420.78 201.51 Z" fill="url(#swtop)" stroke="#7db9d3" stroke-width="0.60"/><path d="M408.80 178.30 L421.00 178.30 C423.50 178.30 426.90 191.10 429.40 191.10 L441.60 191.10 M408.80 191.10 L421.00 191.10 C423.50 191.10 426.90 178.30 429.40 178.30 L441.60 178.30 " fill="none" stroke="#2f6c9c" stroke-opacity="0.5" stroke-width="1.35" transform="translate(0.5 0.7)"/><path d="M408.80 178.30 L421.00 178.30 C423.50 178.30 426.90 191.10 429.40 191.10 L441.60 191.10 M408.80 191.10 L421.00 191.10 C423.50 191.10 426.90 178.30 429.40 178.30 L441.60 178.30 " fill="none" stroke="#fff" stroke-width="1.35"/><polygon points="408.0,178.3 412.5,175.5 412.5,181.1" fill="#fff"/><polygon points="408.0,191.1 412.5,188.3 412.5,193.9" fill="#fff"/><polygon points="442.4,178.3 437.9,175.5 437.9,181.1" fill="#fff"/><polygon points="442.4,191.1 437.9,188.3 437.9,193.9" fill="#fff"/><text transform="matrix(0.866 0.5 0 1 395.30 196.60)" font-family="'Liberation Sans',sans-serif" font-weight="bold" font-size="8.00" fill="#fff" letter-spacing="0.00">SWITCH</text>
<path d="M521.50 349.90 L521.50 356.91 Q521.50 358.30 523.18 359.22 L542.00 370.40 L542.00 349.90 Z" fill="#3670a8"/><path d="M562.50 349.90 L562.50 356.91 Q562.50 358.30 560.82 359.22 L542.00 370.40 L542.00 349.90 Z" fill="url(#swright)"/><path d="M524.11 351.65 Q521.20 349.90 524.11 348.15 L539.09 339.15 Q542.00 337.40 544.91 339.15 L559.89 348.15 Q562.80 349.90 559.89 351.65 L544.91 360.65 Q542.00 362.40 539.09 360.65 Z" fill="url(#swtop)" stroke="#7db9d3" stroke-width="0.40"/><path d="M531.18 345.48 L539.23 345.48 C540.88 345.48 543.12 353.93 544.77 353.93 L552.82 353.93 M531.18 353.93 L539.23 353.93 C540.88 353.93 543.12 345.48 544.77 345.48 L552.82 345.48 " fill="none" stroke="#2f6c9c" stroke-opacity="0.5" stroke-width="0.89" transform="translate(0.5 0.7)"/><path d="M531.18 345.48 L539.23 345.48 C540.88 345.48 543.12 353.93 544.77 353.93 L552.82 353.93 M531.18 353.93 L539.23 353.93 C540.88 353.93 543.12 345.48 544.77 345.48 L552.82 345.48 " fill="none" stroke="#fff" stroke-width="0.89"/><polygon points="530.6,345.5 533.6,343.6 533.6,347.3" fill="#fff"/><polygon points="530.6,353.9 533.6,352.1 533.6,355.8" fill="#fff"/><polygon points="553.4,345.5 550.4,343.6 550.4,347.3" fill="#fff"/><polygon points="553.4,353.9 550.4,352.1 550.4,355.8" fill="#fff"/><text transform="matrix(0.866 0.5 0 1 522.60 356.00)" font-family="'Liberation Sans',sans-serif" font-weight="bold" font-size="5.40" fill="#e3ecf6" letter-spacing="0.00">SWITCH</text>
<path d="M402.50 412.50 L402.50 419.51 Q402.50 420.90 404.18 421.82 L423.00 433.00 L423.00 412.50 Z" fill="#3670a8"/><path d="M443.50 412.50 L443.50 419.51 Q443.50 420.90 441.82 421.82 L423.00 433.00 L423.00 412.50 Z" fill="url(#swright)"/><path d="M405.11 414.25 Q402.20 412.50 405.11 410.75 L420.09 401.75 Q423.00 400.00 425.91 401.75 L440.89 410.75 Q443.80 412.50 440.89 414.25 L425.91 423.25 Q423.00 425.00 420.09 423.25 Z" fill="url(#swtop)" stroke="#7db9d3" stroke-width="0.40"/><path d="M412.18 408.08 L420.23 408.08 C421.88 408.08 424.12 416.53 425.77 416.53 L433.82 416.53 M412.18 416.53 L420.23 416.53 C421.88 416.53 424.12 408.08 425.77 408.08 L433.82 408.08 " fill="none" stroke="#2f6c9c" stroke-opacity="0.5" stroke-width="0.89" transform="translate(0.5 0.7)"/><path d="M412.18 408.08 L420.23 408.08 C421.88 408.08 424.12 416.53 425.77 416.53 L433.82 416.53 M412.18 416.53 L420.23 416.53 C421.88 416.53 424.12 408.08 425.77 408.08 L433.82 408.08 " fill="none" stroke="#fff" stroke-width="0.89"/><polygon points="411.6,408.1 414.6,406.2 414.6,409.9" fill="#fff"/><polygon points="411.6,416.5 414.6,414.7 414.6,418.4" fill="#fff"/><polygon points="434.4,408.1 431.4,406.2 431.4,409.9" fill="#fff"/><polygon points="434.4,416.5 431.4,414.7 431.4,418.4" fill="#fff"/><text transform="matrix(0.866 0.5 0 1 403.60 418.60)" font-family="'Liberation Sans',sans-serif" font-weight="bold" font-size="5.40" fill="#e3ecf6" letter-spacing="0.00">SWITCH</text>
<path d="M294.20 477.40 L294.20 484.41 Q294.20 485.80 295.88 486.72 L314.70 497.90 L314.70 477.40 Z" fill="#3670a8"/><path d="M335.20 477.40 L335.20 484.41 Q335.20 485.80 333.52 486.72 L314.70 497.90 L314.70 477.40 Z" fill="url(#swright)"/><path d="M296.81 479.15 Q293.90 477.40 296.81 475.65 L311.79 466.65 Q314.70 464.90 317.61 466.65 L332.59 475.65 Q335.50 477.40 332.59 479.15 L317.61 488.15 Q314.70 489.90 311.79 488.15 Z" fill="url(#swtop)" stroke="#7db9d3" stroke-width="0.40"/><path d="M303.88 472.98 L311.93 472.98 C313.58 472.98 315.82 481.43 317.47 481.43 L325.52 481.43 M303.88 481.43 L311.93 481.43 C313.58 481.43 315.82 472.98 317.47 472.98 L325.52 472.98 " fill="none" stroke="#2f6c9c" stroke-opacity="0.5" stroke-width="0.89" transform="translate(0.5 0.7)"/><path d="M303.88 472.98 L311.93 472.98 C313.58 472.98 315.82 481.43 317.47 481.43 L325.52 481.43 M303.88 481.43 L311.93 481.43 C313.58 481.43 315.82 472.98 317.47 472.98 L325.52 472.98 " fill="none" stroke="#fff" stroke-width="0.89"/><polygon points="303.3,473.0 306.3,471.1 306.3,474.8" fill="#fff"/><polygon points="303.3,481.4 306.3,479.6 306.3,483.3" fill="#fff"/><polygon points="326.1,473.0 323.1,471.1 323.1,474.8" fill="#fff"/><polygon points="326.1,481.4 323.1,479.6 323.1,483.3" fill="#fff"/><text transform="matrix(0.866 0.5 0 1 295.30 483.50)" font-family="'Liberation Sans',sans-serif" font-weight="bold" font-size="5.40" fill="#e3ecf6" letter-spacing="0.00">SWITCH</text>
<path d="M590.90 289.80 L590.90 301.73 Q590.90 303.93 593.75 305.40 L623.50 323.30 L623.50 289.80 Z" fill="#3670a8"/><path d="M656.10 289.80 L656.10 301.73 Q656.10 303.93 653.25 305.40 L623.50 323.30 L623.50 289.80 Z" fill="url(#swright)"/><path d="M595.21 292.60 Q590.60 289.80 595.21 287.00 L618.89 272.60 Q623.50 269.80 628.11 272.60 L651.79 287.00 Q656.40 289.80 651.79 292.60 L628.11 307.00 Q623.50 309.80 618.89 307.00 Z" fill="url(#swtop)" stroke="#7db9d3" stroke-width="0.63"/><path d="M606.28 282.76 L619.09 282.76 C621.72 282.76 625.28 296.21 627.91 296.21 L640.72 296.21 M606.28 296.21 L619.09 296.21 C621.72 296.21 625.28 282.76 627.91 282.76 L640.72 282.76 " fill="none" stroke="#2f6c9c" stroke-opacity="0.5" stroke-width="1.42" transform="translate(0.5 0.7)"/><path d="M606.28 282.76 L619.09 282.76 C621.72 282.76 625.28 296.21 627.91 296.21 L640.72 296.21 M606.28 296.21 L619.09 296.21 C621.72 296.21 625.28 282.76 627.91 282.76 L640.72 282.76 " fill="none" stroke="#fff" stroke-width="1.42"/><polygon points="605.4,282.8 610.1,279.8 610.1,285.7" fill="#fff"/><polygon points="605.4,296.2 610.1,293.3 610.1,299.1" fill="#fff"/><polygon points="641.6,282.8 636.9,279.8 636.9,285.7" fill="#fff"/><polygon points="641.6,296.2 636.9,293.3 636.9,299.1" fill="#fff"/><text transform="matrix(0.866 0.5 0 1 592.38 303.41)" font-family="'Liberation Sans',sans-serif" font-weight="bold" font-size="8.40" fill="#fff" letter-spacing="0.00">SWITCH</text>
<path d="M641.30 406.20 L641.30 413.21 Q641.30 414.60 642.98 415.52 L661.80 426.70 L661.80 406.20 Z" fill="#3670a8"/><path d="M682.30 406.20 L682.30 413.21 Q682.30 414.60 680.62 415.52 L661.80 426.70 L661.80 406.20 Z" fill="url(#swright)"/><path d="M643.91 407.95 Q641.00 406.20 643.91 404.45 L658.89 395.45 Q661.80 393.70 664.71 395.45 L679.69 404.45 Q682.60 406.20 679.69 407.95 L664.71 416.95 Q661.80 418.70 658.89 416.95 Z" fill="url(#swtop)" stroke="#7db9d3" stroke-width="0.40"/><path d="M650.98 401.78 L659.03 401.78 C660.68 401.78 662.92 410.23 664.57 410.23 L672.62 410.23 M650.98 410.23 L659.03 410.23 C660.68 410.23 662.92 401.78 664.57 401.78 L672.62 401.78 " fill="none" stroke="#2f6c9c" stroke-opacity="0.5" stroke-width="0.89" transform="translate(0.5 0.7)"/><path d="M650.98 401.78 L659.03 401.78 C660.68 401.78 662.92 410.23 664.57 410.23 L672.62 410.23 M650.98 410.23 L659.03 410.23 C660.68 410.23 662.92 401.78 664.57 401.78 L672.62 401.78 " fill="none" stroke="#fff" stroke-width="0.89"/><polygon points="650.4,401.8 653.4,399.9 653.4,403.6" fill="#fff"/><polygon points="650.4,410.2 653.4,408.4 653.4,412.1" fill="#fff"/><polygon points="673.2,401.8 670.2,399.9 670.2,403.6" fill="#fff"/><polygon points="673.2,410.2 670.2,408.4 670.2,412.1" fill="#fff"/><text transform="matrix(0.866 0.5 0 1 642.40 412.30)" font-family="'Liberation Sans',sans-serif" font-weight="bold" font-size="5.40" fill="#e3ecf6" letter-spacing="0.00">SWITCH</text>
<path d="M520.50 474.40 L520.50 481.41 Q520.50 482.80 522.18 483.72 L541.00 494.90 L541.00 474.40 Z" fill="#3670a8"/><path d="M561.50 474.40 L561.50 481.41 Q561.50 482.80 559.82 483.72 L541.00 494.90 L541.00 474.40 Z" fill="url(#swright)"/><path d="M523.11 476.15 Q520.20 474.40 523.11 472.65 L538.09 463.65 Q541.00 461.90 543.91 463.65 L558.89 472.65 Q561.80 474.40 558.89 476.15 L543.91 485.15 Q541.00 486.90 538.09 485.15 Z" fill="url(#swtop)" stroke="#7db9d3" stroke-width="0.40"/><path d="M530.18 469.98 L538.23 469.98 C539.88 469.98 542.12 478.43 543.77 478.43 L551.82 478.43 M530.18 478.43 L538.23 478.43 C539.88 478.43 542.12 469.98 543.77 469.98 L551.82 469.98 " fill="none" stroke="#2f6c9c" stroke-opacity="0.5" stroke-width="0.89" transform="translate(0.5 0.7)"/><path d="M530.18 469.98 L538.23 469.98 C539.88 469.98 542.12 478.43 543.77 478.43 L551.82 478.43 M530.18 478.43 L538.23 478.43 C539.88 478.43 542.12 469.98 543.77 469.98 L551.82 469.98 " fill="none" stroke="#fff" stroke-width="0.89"/><polygon points="529.6,470.0 532.6,468.1 532.6,471.8" fill="#fff"/><polygon points="529.6,478.4 532.6,476.6 532.6,480.3" fill="#fff"/><polygon points="552.4,470.0 549.4,468.1 549.4,471.8" fill="#fff"/><polygon points="552.4,478.4 549.4,476.6 549.4,480.3" fill="#fff"/><text transform="matrix(0.866 0.5 0 1 521.60 480.50)" font-family="'Liberation Sans',sans-serif" font-weight="bold" font-size="5.40" fill="#e3ecf6" letter-spacing="0.00">SWITCH</text>
<path d="M408.80 540.80 L408.80 547.81 Q408.80 549.20 410.48 550.12 L429.30 561.30 L429.30 540.80 Z" fill="#3670a8"/><path d="M449.80 540.80 L449.80 547.81 Q449.80 549.20 448.12 550.12 L429.30 561.30 L429.30 540.80 Z" fill="url(#swright)"/><path d="M411.41 542.55 Q408.50 540.80 411.41 539.05 L426.39 530.05 Q429.30 528.30 432.21 530.05 L447.19 539.05 Q450.10 540.80 447.19 542.55 L432.21 551.55 Q429.30 553.30 426.39 551.55 Z" fill="url(#swtop)" stroke="#7db9d3" stroke-width="0.40"/><path d="M418.48 536.38 L426.53 536.38 C428.18 536.38 430.42 544.83 432.07 544.83 L440.12 544.83 M418.48 544.83 L426.53 544.83 C428.18 544.83 430.42 536.38 432.07 536.38 L440.12 536.38 " fill="none" stroke="#2f6c9c" stroke-opacity="0.5" stroke-width="0.89" transform="translate(0.5 0.7)"/><path d="M418.48 536.38 L426.53 536.38 C428.18 536.38 430.42 544.83 432.07 544.83 L440.12 544.83 M418.48 544.83 L426.53 544.83 C428.18 544.83 430.42 536.38 432.07 536.38 L440.12 536.38 " fill="none" stroke="#fff" stroke-width="0.89"/><polygon points="417.9,536.4 420.9,534.5 420.9,538.2" fill="#fff"/><polygon points="417.9,544.8 420.9,543.0 420.9,546.7" fill="#fff"/><polygon points="440.7,536.4 437.7,534.5 437.7,538.2" fill="#fff"/><polygon points="440.7,544.8 437.7,543.0 437.7,546.7" fill="#fff"/><text transform="matrix(0.866 0.5 0 1 409.90 546.90)" font-family="'Liberation Sans',sans-serif" font-weight="bold" font-size="5.40" fill="#e3ecf6" letter-spacing="0.00">SWITCH</text>
<path d="M732.10 381.40 L732.10 391.83 Q732.10 394.17 735.13 395.72 L766.80 414.80 L766.80 381.40 Z" fill="#3670a8"/><path d="M801.50 381.40 L801.50 391.83 Q801.50 394.17 798.47 395.72 L766.80 414.80 L766.80 381.40 Z" fill="url(#swright)"/><path d="M736.70 384.38 Q731.80 381.40 736.70 378.42 L761.90 363.08 Q766.80 360.10 771.70 363.08 L796.90 378.42 Q801.80 381.40 796.90 384.38 L771.70 399.72 Q766.80 402.70 761.90 399.72 Z" fill="url(#swtop)" stroke="#7db9d3" stroke-width="0.67"/><path d="M748.60 373.96 L762.14 373.96 C764.91 373.96 768.69 388.17 771.46 388.17 L785.00 388.17 M748.60 388.17 L762.14 388.17 C764.91 388.17 768.69 373.96 771.46 373.96 L785.00 373.96 " fill="none" stroke="#2f6c9c" stroke-opacity="0.5" stroke-width="1.50" transform="translate(0.5 0.7)"/><path d="M748.60 373.96 L762.14 373.96 C764.91 373.96 768.69 388.17 771.46 388.17 L785.00 388.17 M748.60 388.17 L762.14 388.17 C764.91 388.17 768.69 373.96 771.46 373.96 L785.00 373.96 " fill="none" stroke="#fff" stroke-width="1.50"/><polygon points="747.7,374.0 752.7,370.9 752.7,377.1" fill="#fff"/><polygon points="747.7,388.2 752.7,385.1 752.7,391.3" fill="#fff"/><polygon points="785.9,374.0 780.9,370.9 780.9,377.1" fill="#fff"/><polygon points="785.9,388.2 780.9,385.1 780.9,391.3" fill="#fff"/><text transform="matrix(0.866 0.5 0 1 733.69 393.61)" font-family="'Liberation Sans',sans-serif" font-weight="bold" font-size="8.88" fill="#fff" letter-spacing="0.00">SWITCH</text>
<polyline points="748.0,366.9 713.0,343.3 401.1,528.6 418.7,539.1" fill="none" stroke="#e43326" stroke-width="3.2" stroke-linejoin="miter"/>
<polyline points="635.4,391.3 651.1,400.6" fill="none" stroke="#e43326" stroke-width="3.2" stroke-linejoin="miter"/>
<polyline points="516.7,461.5 529.5,470.4" fill="none" stroke="#e43326" stroke-width="3.2" stroke-linejoin="miter"/>
<polyline points="789.1,369.9 923.6,287.8 765.8,194.3" fill="none" stroke="#e43326" stroke-width="2.8" stroke-linejoin="miter"/>
<g filter="url(#ts)"><text transform="matrix(0.866 -0.5 0.1 1 106.3 386.3) scale(0.62 1)" font-family="'Liberation Sans',sans-serif" font-style="italic" font-weight="bold" font-size="14" fill="#fff" stroke="#fff" stroke-width="0.5" stroke-linejoin="round">Server Room</text></g>
<g filter="url(#ts)"><text transform="matrix(0.866 -0.5 0.1 1 218.3 321.3) scale(0.62 1)" font-family="'Liberation Sans',sans-serif" font-style="italic" font-weight="bold" font-size="14" fill="#fff" stroke="#fff" stroke-width="0.5" stroke-linejoin="round">Server Room</text></g>
<g filter="url(#ts)"><text transform="matrix(0.866 -0.5 0.1 1 322.5 260.1) scale(0.62 1)" font-family="'Liberation Sans',sans-serif" font-style="italic" font-weight="bold" font-size="14" fill="#fff" stroke="#fff" stroke-width="0.5" stroke-linejoin="round">Server Room</text></g>
<g filter="url(#ts)"><text transform="matrix(0.866 -0.5 0.1 1 276.3 483.8) scale(0.62 1)" font-family="'Liberation Sans',sans-serif" font-style="italic" font-weight="bold" font-size="14" fill="#fff" stroke="#fff" stroke-width="0.5" stroke-linejoin="round">Server Room</text></g>
<g filter="url(#ts)"><text transform="matrix(0.866 -0.5 0.1 1 384.8 419.8) scale(0.62 1)" font-family="'Liberation Sans',sans-serif" font-style="italic" font-weight="bold" font-size="14" fill="#fff" stroke="#fff" stroke-width="0.5" stroke-linejoin="round">Server Room</text></g>
<g filter="url(#ts)"><text transform="matrix(0.866 -0.5 0.1 1 496.8 355.8) scale(0.62 1)" font-family="'Liberation Sans',sans-serif" font-style="italic" font-weight="bold" font-size="14" fill="#fff" stroke="#fff" stroke-width="0.5" stroke-linejoin="round">Server Room</text></g>
<g filter="url(#ts)"><text transform="matrix(0.866 -0.5 0.1 1 492.4 617.2) scale(0.62 1)" font-family="'Liberation Sans',sans-serif" font-style="italic" font-weight="bold" font-size="14" fill="#fff" stroke="#fff" stroke-width="0.5" stroke-linejoin="round">Server Room</text></g>
<g filter="url(#ts)"><text transform="matrix(0.866 -0.5 0.1 1 612.9 547.3) scale(0.62 1)" font-family="'Liberation Sans',sans-serif" font-style="italic" font-weight="bold" font-size="14" fill="#fff" stroke="#fff" stroke-width="0.5" stroke-linejoin="round">Server Room</text></g>
<g filter="url(#ts)"><text transform="matrix(0.866 -0.5 0.1 1 724.4 481.3) scale(0.62 1)" font-family="'Liberation Sans',sans-serif" font-style="italic" font-weight="bold" font-size="14" fill="#fff" stroke="#fff" stroke-width="0.5" stroke-linejoin="round">Server Room</text></g>
<text transform="translate(404.1 144.4) rotate(-30)" text-anchor="middle" font-family="'Liberation Sans','Noto Sans CJK SC',sans-serif" font-weight="500" font-size="17" fill="#fff">教室二</text>
<text transform="translate(687.7 302.5) rotate(-30)" text-anchor="middle" font-family="'Liberation Sans','Noto Sans CJK SC',sans-serif" font-weight="500" font-size="17" fill="#fff">教室一</text>
<text transform="translate(840.6 408.3) rotate(-30)" text-anchor="middle" font-family="'Liberation Sans','Noto Sans CJK SC',sans-serif" font-weight="500" font-size="17" fill="#fff">教室三</text>
<text transform="translate(556.5 56.8) rotate(-30)" text-anchor="middle" font-family="'Liberation Sans','Noto Sans CJK SC',sans-serif" font-weight="500" font-size="16.9" fill="#fff">楼层弱电井</text>
<text transform="translate(507.8 135.6) rotate(-30)" font-family="'Liberation Sans',sans-serif" font-size="12.6" fill="#cf3229" text-anchor="middle" dy="5.0">Vlan2</text>
<text transform="translate(700.9 231.3) rotate(-30)" font-family="'Liberation Sans',sans-serif" font-size="12.6" fill="#cf3229" text-anchor="middle" dy="5.0">Vlan1</text>
<text transform="translate(847.4 334.4) rotate(-30)" font-family="'Liberation Sans',sans-serif" font-size="12.6" fill="#cf3229" text-anchor="middle" dy="5.0">Vlan3</text>
<path d="M161.3 186.2 h131.0 a8 8 0 0 1 8 8 v36.6 a8 8 0 0 1 -8 8 H198.3 L184.1 251.6 L178.3 238.8 H161.3 a8 8 0 0 1 -8 -8 v-36.6 a8 8 0 0 1 8 -8 Z" fill="#c5d9f0"/>
<text x="158.5" y="210.6" font-family="'Liberation Sans','Noto Sans CJK SC',sans-serif" font-weight="350" font-size="14.4" fill="#000">终端云<tspan font-family="'Noto Sans CJK TC',sans-serif">：</tspan>本地计算、</text>
<text x="158.5" y="228.2" font-family="'Liberation Sans','Noto Sans CJK SC',sans-serif" font-weight="350" font-size="14.4" fill="#000">存储，完整桌面环境</text>
<path d="M381.2 333.0 h130.5 a8 8 0 0 1 8 8 v36.6 a8 8 0 0 1 -8 8 H415.2 L402.0 398.4 L395.2 385.6 H381.2 a8 8 0 0 1 -8 -8 v-36.6 a8 8 0 0 1 8 -8 Z" fill="#c5d9f0"/>
<text x="378.4" y="357.4" font-family="'Liberation Sans','Noto Sans CJK SC',sans-serif" font-weight="350" font-size="14.4" fill="#000">终端云<tspan font-family="'Noto Sans CJK TC',sans-serif">：</tspan>本地计算、</text>
<text x="378.4" y="375.0" font-family="'Liberation Sans','Noto Sans CJK SC',sans-serif" font-weight="350" font-size="14.4" fill="#000">存储，完整桌面环境</text>
<path d="M558.5 448.2 h130.8 a8 8 0 0 1 8 8 v36.4 a8 8 0 0 1 -8 8 H597.1 L582.2 513.6 L576.1 500.6 H558.5 a8 8 0 0 1 -8 -8 v-36.4 a8 8 0 0 1 8 -8 Z" fill="#c5d9f0"/>
<text x="555.7" y="472.6" font-family="'Liberation Sans','Noto Sans CJK SC',sans-serif" font-weight="350" font-size="14.4" fill="#000">终端云<tspan font-family="'Noto Sans CJK TC',sans-serif">：</tspan>本地计算、</text>
<text x="555.7" y="490.2" font-family="'Liberation Sans','Noto Sans CJK SC',sans-serif" font-weight="350" font-size="14.4" fill="#000">存储，完整桌面环境</text>
<path d="M528.9 166.2 h144.1 a8 8 0 0 1 8 8 v52.8 a8 8 0 0 1 -8 8 H582.9 L554.0 251.2 L547.8 235.0 H528.9 a8 8 0 0 1 -8 -8 v-52.8 a8 8 0 0 1 8 -8 Z" fill="#c5d9f0"/>
<text x="529.2" y="183.6" font-family="'Liberation Sans','Noto Sans CJK SC',sans-serif" font-weight="350" font-size="13.2" fill="#000">管理云平台<tspan font-family="'Noto Sans CJK TC',sans-serif">：</tspan>对所有终端</text>
<text x="529.2" y="199.4" font-family="'Liberation Sans','Noto Sans CJK SC',sans-serif" font-weight="350" font-size="13.2" fill="#000">集中管理，包括镜像管理、</text>
<text x="529.2" y="215.2" font-family="'Liberation Sans','Noto Sans CJK SC',sans-serif" font-weight="350" font-size="13.2" fill="#000">数据安全、性能监控、权</text>
<text x="529.2" y="231.0" font-family="'Liberation Sans','Noto Sans CJK SC',sans-serif" font-weight="350" font-size="13.2" fill="#000">限管理等。</text>
</svg>
</body></html>
